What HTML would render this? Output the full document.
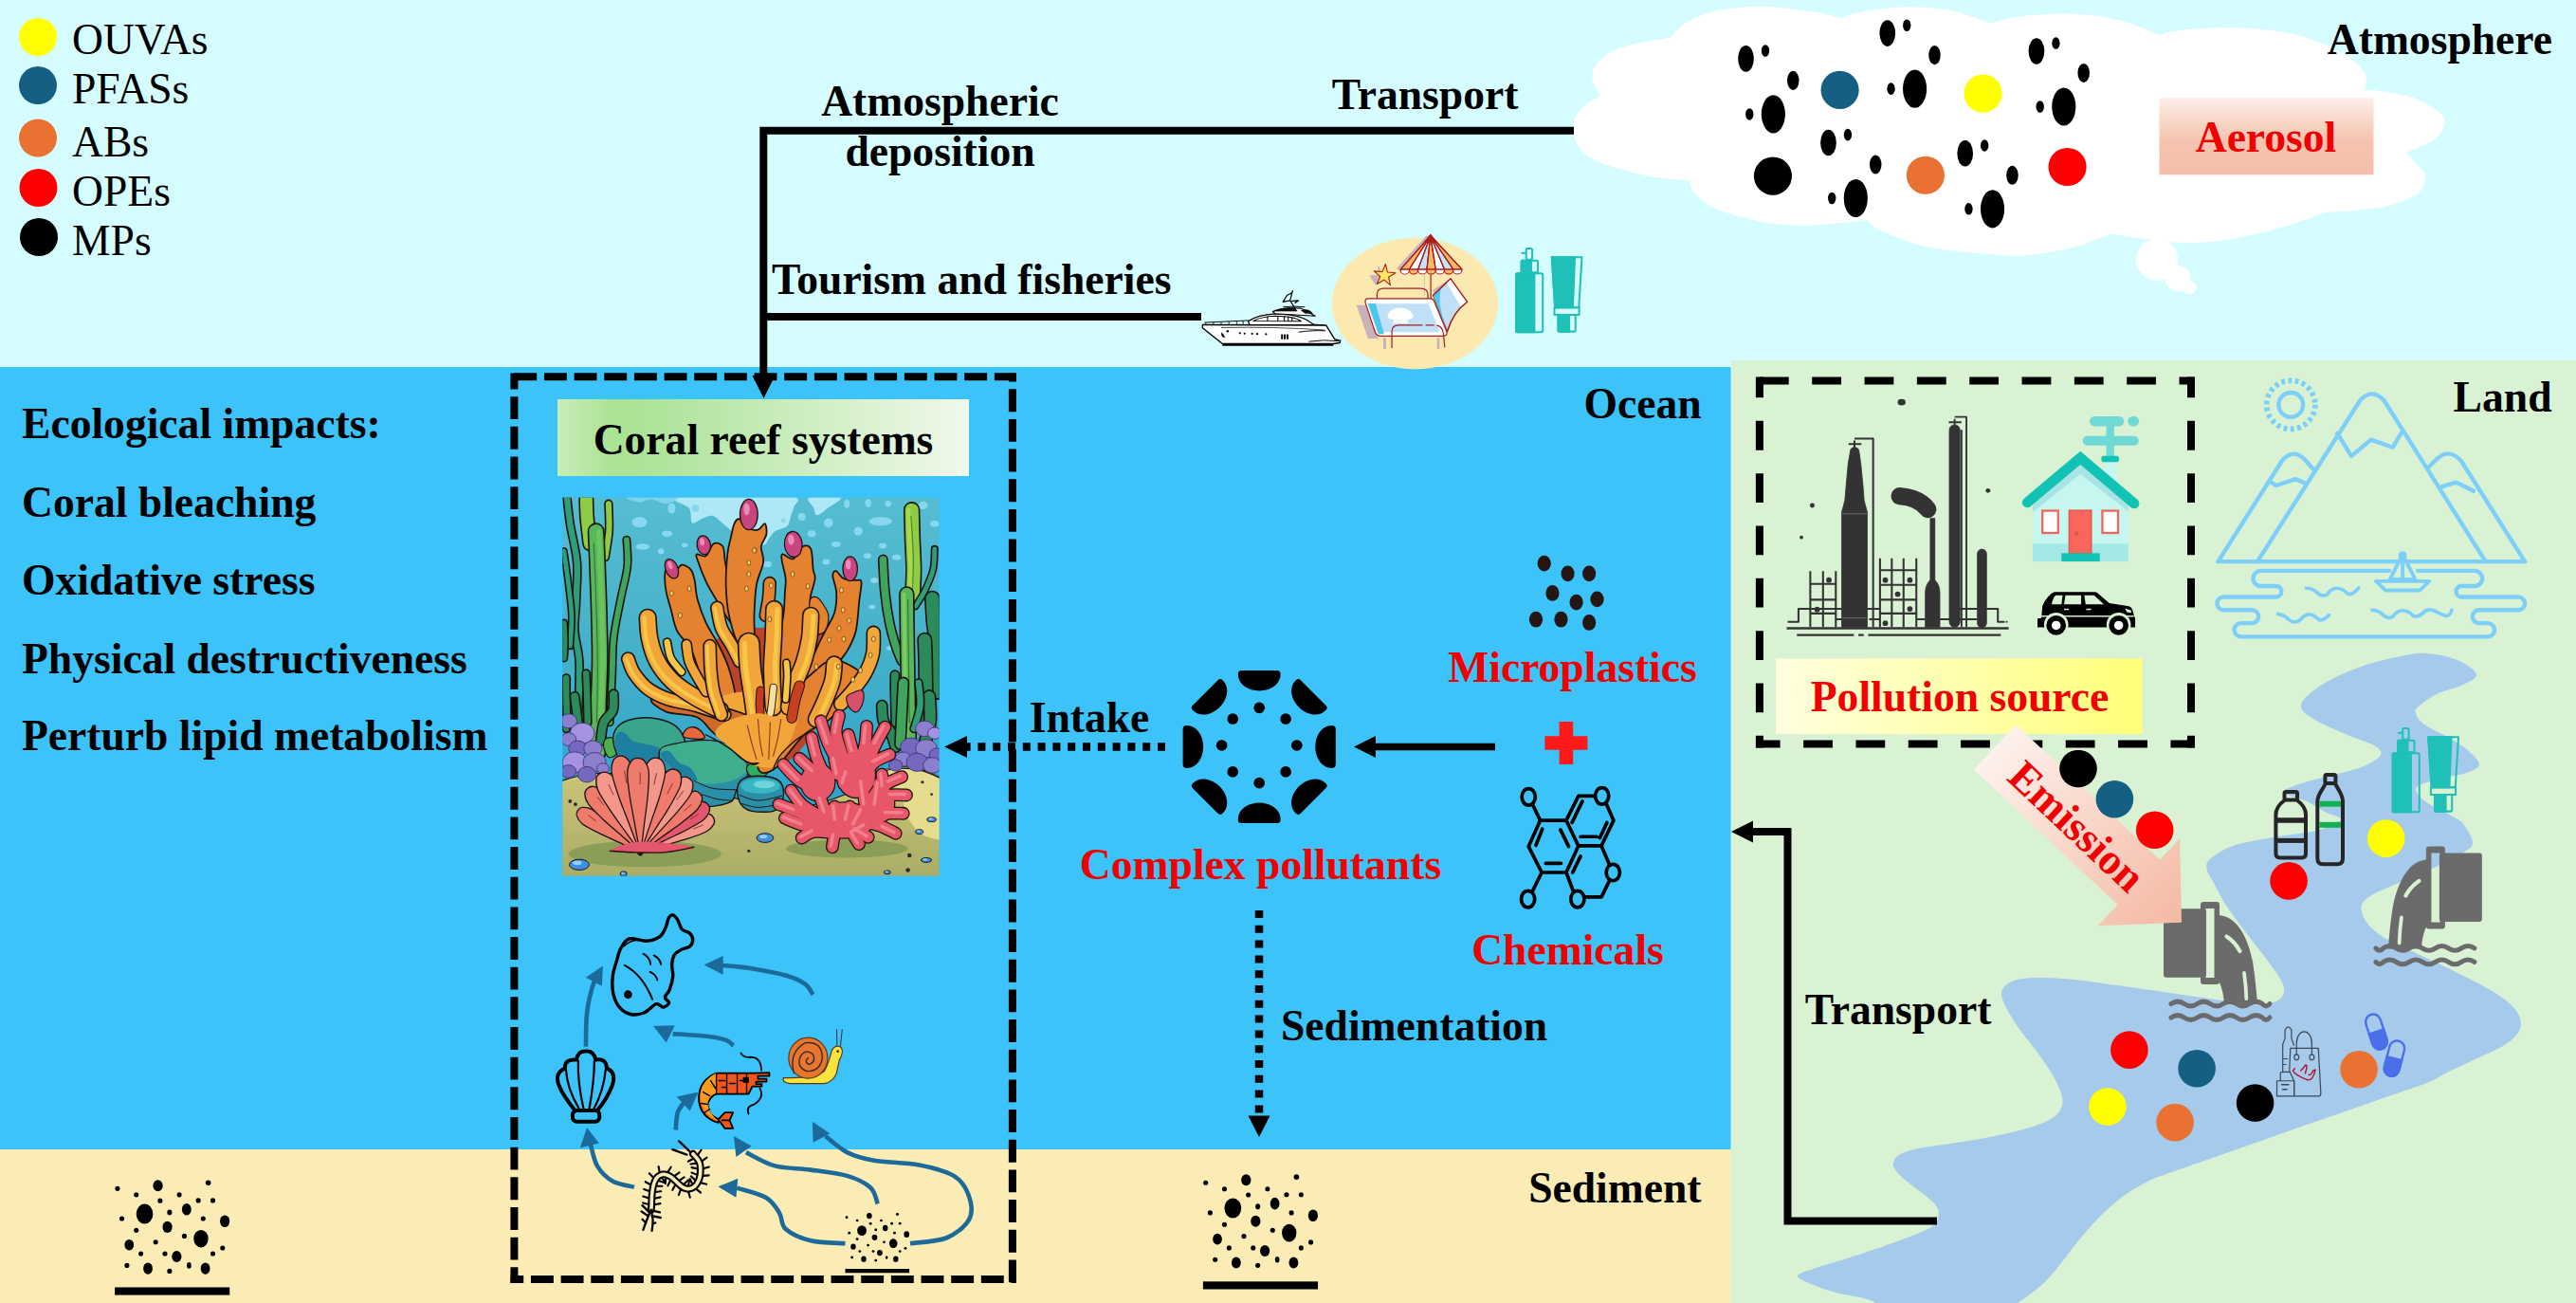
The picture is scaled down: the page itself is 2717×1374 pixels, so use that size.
<!DOCTYPE html>
<html><head><meta charset="utf-8">
<style>
html,body{margin:0;padding:0;background:#d5fdff;}
body{width:2717px;height:1374px;overflow:hidden;}
svg{display:block;}
text{font-family:"Liberation Serif",serif;font-size:45.6px;}
.b{font-weight:bold;}
.r{fill:#f00000;}
</style></head><body>
<svg width="2717" height="1374" viewBox="0 0 2717 1374">
<defs>
<linearGradient id="gCoral" x1="0" x2="1" y1="0" y2="0"><stop offset="0" stop-color="#c9ecb8"/><stop offset="0.14" stop-color="#a9e394"/><stop offset="0.3" stop-color="#b3e5a0"/><stop offset="1" stop-color="#f1f9ec"/></linearGradient>
<linearGradient id="gPoll" x1="0" x2="1" y1="0" y2="0"><stop offset="0" stop-color="#ffffde"/><stop offset="1" stop-color="#ffff78"/></linearGradient>
<linearGradient id="gAero" x1="0" x2="0" y1="0" y2="1"><stop offset="0" stop-color="#fdeee8"/><stop offset="0.55" stop-color="#f5c4b0"/><stop offset="1" stop-color="#f4bfa9"/></linearGradient>
<linearGradient id="gEmis" x1="0" x2="1" y1="0" y2="0"><stop offset="0" stop-color="#fdf1ec"/><stop offset="1" stop-color="#f4b9a3"/></linearGradient>
</defs>
<!-- BACKGROUNDS -->
<rect x="0" y="0" width="2717" height="1374" fill="#d5fdff"/>
<rect x="0" y="387" width="1826" height="825" fill="#3bc3fa"/>
<rect x="0" y="1212" width="1826" height="162" fill="#fbecb5"/>
<rect x="1825.500" y="380" width="891.500" height="994" fill="#d9f2d3"/>
<g id="cloud" fill="#fff"><path d="M1687.9 100.7C1686.5 97.6 1679.5 88.4 1679.3 82.3C1679.1 76.2 1681 69.4 1686.7 63.9C1692.4 58.4 1701 53.2 1713.7 49.1C1726.4 45 1754.6 40.9 1762.8 39.3C1765.2 36.8 1769.3 29.3 1777.5 24.6C1785.7 19.9 1798 14.1 1811.9 11.1C1825.8 8.1 1844.6 6.7 1861 6.9C1877.4 7.1 1896.4 10.2 1910.1 12.3C1923.8 14.4 1937.8 18.1 1943.3 19.2C1946 18.2 1948.4 15.5 1959.3 13.5C1970.2 11.5 1992 7.8 2008.4 7.4C2024.8 7 2042.4 8.2 2057.5 11.1C2072.6 14 2092.2 22.4 2099.2 24.6C2104.5 23.4 2116.1 18.9 2131.1 17.2C2146.1 15.5 2171.2 13.9 2189.1 14.7C2206.9 15.5 2223.5 18.4 2238.2 22.1C2252.9 25.8 2270.9 34.3 2277.5 36.8C2281.2 36 2285.7 33.1 2299.6 31.9C2313.5 30.7 2340.5 28.7 2361 29.5C2381.5 30.3 2404 32.3 2422.4 36.8C2440.8 41.3 2459.6 50 2471.5 56.5C2483.4 63 2489.7 70.4 2493.6 76.1C2497.5 81.8 2495.3 87.7 2494.9 90.9C2494.5 94.1 2491.8 94.6 2491.2 95.3C2494.1 95.4 2499.4 94.5 2508.4 95.8C2517.4 97.1 2534.6 99.4 2545.2 103.1C2555.8 106.8 2566.7 113.4 2572.2 117.9C2577.7 122.4 2579.2 125.3 2578.4 130.2C2577.6 135.1 2574.1 142.2 2567.3 147.3C2560.5 152.4 2542.7 158.6 2537.8 160.9C2539.5 162.7 2544.4 168 2547.7 171.9C2551 175.8 2556.7 179.3 2557.5 184.2C2558.3 189.1 2558.3 196.1 2552.6 201.4C2546.9 206.7 2534.6 212.6 2523.1 216.1C2511.6 219.6 2495.3 220.9 2483.8 222.2C2472.3 223.5 2462.5 222.6 2454.3 224C2446.1 225.4 2446.1 227.2 2434.7 230.8C2423.2 234.4 2402 241.7 2385.6 245.6C2369.2 249.5 2352.1 252.6 2336.5 254.2C2320.9 255.8 2310.7 256.6 2292.3 255.4C2273.9 254.2 2237.1 248.2 2226 246.8C2219.8 249.1 2203.4 256.6 2189.1 260.3C2174.8 264 2153.8 267.5 2140 268.9C2126.2 270.3 2124.4 270.3 2106.6 268.9C2088.8 267.5 2053.4 264.6 2032.9 260.3C2012.4 256 1994.4 247.8 1983.8 243.1C1973.2 238.4 1971.5 233.9 1969.1 232.1C1959.3 233 1928.1 237.3 1910.1 237.7C1892.1 238.1 1877.4 237.3 1861 234.5C1844.6 231.7 1824.2 226.1 1811.9 221C1799.6 215.9 1792.2 208.9 1787.3 203.8C1782.4 198.7 1783.2 192.6 1782.4 190.3C1775 189.5 1753.8 188.5 1738.2 185.4C1722.7 182.3 1701 176.6 1689.1 171.9C1677.2 167.2 1671.9 162.9 1667 157.2C1662.1 151.5 1660 144.1 1659.6 137.5C1659.2 130.9 1659.9 124 1664.6 117.9C1669.3 111.8 1684 103.6 1687.9 100.7Z"/><circle cx="2275.100" cy="273.800" r="22"/><circle cx="2297.200" cy="293.500" r="13.500"/><circle cx="2309.500" cy="303.300" r="7"/></g>
<!--RIVER-->
<path id="river" fill="#a6caec" d="M2427 743C2428.5 737 2438.5 728.7 2449 722C2459.5 715.3 2476.2 708 2490 703C2503.8 698 2520.5 694.3 2532 692C2543.5 689.7 2549 688.3 2559 689C2569 689.7 2583.2 692.3 2592 696C2600.8 699.7 2611 706.7 2612 711C2613 715.3 2605 718.5 2598 722C2591 725.5 2577.8 728.2 2570 732C2562.2 735.8 2554.7 741.7 2551 745C2547.3 748.3 2547 748.8 2548 752C2549 755.2 2550.5 759.3 2557 764C2563.5 768.7 2578.8 775 2587 780C2595.2 785 2601.3 789.5 2606 794C2610.7 798.5 2615.8 803.5 2615 807C2614.2 810.5 2606.2 813 2601 815C2595.8 817 2590.8 817.3 2584 819C2577.2 820.7 2566 822.8 2560 825C2554 827.2 2548.3 828.7 2548 832C2547.7 835.3 2551.5 840.2 2558 845C2564.5 849.8 2580.3 857 2587 861C2593.7 865 2594.5 864.5 2598 869C2601.5 873.5 2608 883 2608 888C2608 893 2606.2 893.8 2598 899C2589.8 904.2 2570 913.8 2559 919C2548 924.2 2541.8 925.7 2532 930C2522.2 934.3 2506.9 940.5 2500 945C2493.1 949.5 2490.9 952.1 2490.5 957C2490.1 961.9 2493.7 969.4 2497.6 974.6C2501.5 979.8 2507.6 984.3 2514 988.4C2520.4 992.5 2528.3 995.7 2536 999.4C2543.7 1003.1 2552.5 1007 2560 1010.5C2567.5 1014 2571.8 1016 2581 1020.5C2590.2 1025 2605.2 1032.2 2615 1037.5C2624.8 1042.8 2633.5 1047.8 2640 1052.5C2646.5 1057.2 2650.8 1061.5 2654 1066C2657.2 1070.5 2659 1075.2 2659 1079.5C2659 1083.8 2657.2 1087.6 2654 1091.5C2650.8 1095.4 2646.5 1099.1 2640 1103C2633.5 1106.9 2624.8 1110.3 2615 1115C2605.2 1119.7 2590.2 1126.5 2581 1131C2571.8 1135.5 2572.1 1136.9 2560 1141.7C2547.9 1146.5 2526.4 1153.5 2508.6 1159.7C2490.8 1165.9 2471.8 1172.6 2453.4 1179C2435 1185.4 2416.5 1191.8 2398.1 1198.3C2379.7 1204.8 2361.3 1211.2 2342.9 1217.7C2324.5 1224.2 2300.4 1232.4 2287.6 1237C2274.8 1241.6 2274.1 1241.4 2265.9 1245.5C2257.8 1249.6 2247.3 1255.5 2238.7 1261.8C2230.1 1268.1 2221.9 1275.9 2214.2 1283.6C2206.5 1291.3 2199.3 1299.8 2192.5 1308C2185.7 1316.2 2179.4 1325.2 2173.5 1332.5C2167.6 1339.8 2162.6 1346.1 2157.2 1351.5C2151.8 1356.9 2146.3 1361 2140.9 1365.1C2135.5 1369.2 2131.4 1371.8 2124.6 1376C2117.8 1380.2 2121.6 1387.7 2100 1390C2078.4 1392.3 2015.8 1393 1995 1390C1974.2 1387 1985.2 1376.5 1975.1 1371.9C1965 1367.3 1946.1 1365.8 1934.3 1362.4C1922.5 1359 1910.8 1354.5 1904.5 1351.5C1898.2 1348.5 1895 1347 1896.3 1344.7C1897.6 1342.4 1904 1340.8 1912.6 1337.9C1921.2 1335 1935.2 1331.2 1947.9 1327.1C1960.6 1323 1976.5 1317.8 1988.7 1313.5C2000.9 1309.2 2012.7 1304.9 2021.3 1301.3C2029.9 1297.7 2036.4 1294.9 2040.3 1291.7C2044.2 1288.5 2044 1285.4 2044.4 1282.2C2044.9 1279 2045 1276.1 2043 1272.7C2041 1269.3 2036.7 1265.7 2032.2 1261.8C2027.7 1257.9 2020.9 1253.7 2015.9 1249.6C2010.9 1245.5 2005.5 1241 2002.3 1237.4C1999.1 1233.8 1996.8 1231.1 1996.8 1227.9C1996.8 1224.7 1998.2 1221.1 2002.3 1218.4C2006.4 1215.7 2012.2 1213.6 2021.3 1211.6C2030.3 1209.5 2043.9 1208.1 2056.6 1206.1C2069.3 1204 2083.8 1202 2097.4 1199.3C2111 1196.6 2127.3 1193 2138.2 1189.8C2149.1 1186.6 2156.7 1183.7 2162.6 1180.3C2168.5 1176.9 2171.5 1173.6 2173.5 1169.5C2175.5 1165.4 2176.2 1161.8 2174.8 1155.9C2173.4 1150 2169.6 1141.8 2165.3 1134.1C2161 1126.4 2154.9 1117.8 2149 1109.7C2143.1 1101.6 2135.4 1092.9 2130 1085.2C2124.6 1077.5 2119.6 1069.8 2116.4 1063.5C2113.2 1057.2 2110.6 1051.7 2111 1047.2C2111.4 1042.7 2114.6 1038.9 2119.1 1036.3C2123.6 1033.7 2128.2 1032.1 2138.2 1031.4C2148.2 1030.7 2163.1 1030.9 2178.9 1032.2C2194.8 1033.5 2216.5 1036.7 2233.3 1039C2250.2 1041.3 2263.9 1043.5 2280 1045.8C2296.1 1048.1 2314.9 1050.8 2330 1053C2345.1 1055.2 2360.1 1058 2370.5 1058.8C2380.9 1059.6 2386.8 1058.9 2392.6 1058C2398.3 1057.1 2402.2 1055.8 2405 1053.3C2407.8 1050.8 2409.4 1047 2409.2 1043.1C2409 1039.2 2406.8 1035.2 2403.6 1029.8C2400.4 1024.4 2395.3 1017.9 2389.8 1010.5C2384.3 1003.1 2377.4 994.8 2370.5 985.6C2363.6 976.4 2354.4 964.4 2348.4 955.2C2342.4 946 2338.1 936.8 2334.6 930.4C2331.1 924 2328.3 920.7 2327.7 916.6C2327.1 912.5 2326.4 910.1 2331 906C2335.6 901.9 2344 895.8 2355 892C2366 888.2 2383.2 885.5 2397 883C2410.8 880.5 2428.8 878.7 2438 877C2447.2 875.3 2446.8 875.2 2452 873C2457.2 870.8 2469 866.8 2469 864C2469 861.2 2458 859.2 2452 856C2446 852.8 2439.7 848 2433 845C2426.3 842 2416 839.8 2412 838C2408 836.2 2407.8 835.5 2409 834C2410.2 832.5 2414.2 830.8 2419 829C2423.8 827.2 2430.2 825.2 2438 823C2445.8 820.8 2456.8 818.5 2466 816C2475.2 813.5 2485.5 811.3 2493 808C2500.5 804.7 2509.2 799.7 2511 796C2512.8 792.3 2509.8 789.5 2504 786C2498.2 782.5 2486.7 779.7 2476 775C2465.3 770.3 2448.2 763.3 2440 758C2431.8 752.7 2425.5 749 2427 743Z"/>
<!--/RIVER-->
<!-- LEGEND -->
<g id="legend">
<circle cx="40" cy="39" r="20" fill="#ffff00"/>
<circle cx="40" cy="90" r="20" fill="#156082"/>
<circle cx="40" cy="145.5" r="20" fill="#e97132"/>
<circle cx="40.500" cy="198" r="20" fill="#ff0000"/>
<circle cx="41" cy="250" r="20" fill="#000000"/>
<text x="76" y="57.3">OUVAs</text>
<text x="76" y="108.8">PFASs</text>
<text x="76" y="164.8">ABs</text>
<text x="76" y="216.8">OPEs</text>
<text x="76" y="268.8">MPs</text>
</g>
<!-- TEXT -->
<g class="b">
<text x="23" y="462">Ecological impacts:</text>
<text x="23" y="545">Coral bleaching</text>
<text x="23" y="627">Oxidative stress</text>
<text x="23" y="709.5">Physical destructiveness</text>
<text x="23" y="791">Perturb lipid metabolism</text>
<text x="991.500" y="122" text-anchor="middle">Atmospheric</text>
<text x="991.500" y="175" text-anchor="middle">deposition</text>
<text x="1503" y="115" text-anchor="middle">Transport</text>
<text x="814" y="310">Tourism and fisheries</text>
<text x="1794.700" y="441" text-anchor="end">Ocean</text>
<text x="1794.500" y="1268" text-anchor="end">Sediment</text>
<text x="1351" y="1097">Sedimentation</text>
<text x="1149" y="772" text-anchor="middle">Intake</text>
<text x="2691.500" y="434" text-anchor="end">Land</text>
<text x="2002" y="1080" text-anchor="middle">Transport</text>
<text x="2692" y="57" text-anchor="end">Atmosphere</text>
<text class="r" x="1658.500" y="719" text-anchor="middle">Microplastics</text>
<text class="r" x="1329.500" y="926.500" text-anchor="middle">Complex pollutants</text>
<text class="r" x="1653.500" y="1017" text-anchor="middle">Chemicals</text>
</g>
<!-- LINES -->
<g fill="none" stroke="#000" stroke-width="8">
<path d="M1660 137.700 H805.300 V400"/>
<path d="M805.300 334 H1267"/>
<path d="M2043 1287.500 H1885.500 V877 H1846"/>
<path d="M1577 787.500 H1448" stroke-width="7.500"/>
</g>
<path d="M793.500 396 H817.500 L805.500 420 Z" fill="#000"/>
<path d="M1826 877 L1849 865.500 V888.500 Z" fill="#000"/>
<path d="M1428 787.500 L1451 776 V799 Z" fill="#000"/>
<!-- dotted arrows -->
<path d="M1229 787.500 H1018" stroke="#000" stroke-width="8.500" stroke-dasharray="8 7.800" fill="none"/>
<path d="M996 787.500 L1020 776 V799 Z" fill="#000"/>
<path d="M1328 960 V1178" stroke="#000" stroke-width="8.500" stroke-dasharray="8 7.800" fill="none"/>
<path d="M1316.500 1176.500 H1339.500 L1328 1199 Z" fill="#000"/>
<!-- dashed boxes -->
<g fill="none" stroke="#000" stroke-width="8" stroke-dasharray="23.9 7.76">
<path d="M538.500 397.300 H1071.800" stroke-dashoffset="27.860"/>
<path d="M542.400 393.400 V1353" stroke-dashoffset="6.900"/>
<path d="M1067.900 393.400 V1353" stroke-dashoffset="14.800"/>
<path d="M538.500 1349.100 H1071.800" stroke-dashoffset="10.200"/>
</g>
<g fill="none" stroke="#000" stroke-width="8" stroke-dasharray="30.8 24.53">
<path d="M1855.900 401.500 H2314.900"/>
<path d="M1855.900 397.500 V788.600" stroke-dashoffset="9"/>
<path d="M2311 397.500 V788.600" stroke-dashoffset="9"/>
<path d="M1852 784.600 H2314.900" stroke-dashoffset="5.200"/>
</g>
<!-- label boxes -->
<rect x="588" y="421" width="434" height="81" fill="url(#gCoral)"/>
<text class="b" x="805" y="479" text-anchor="middle">Coral reef systems</text>
<rect x="1873" y="694.500" width="386.500" height="79.500" fill="url(#gPoll)"/>
<text class="b r" x="2067" y="749.500" text-anchor="middle">Pollution source</text>
<g id="aerosol" transform="translate(1640,0) scale(0.41806)">
<g id="pgrp" fill="#000"><ellipse cx="482" cy="148" rx="20" ry="33"/><ellipse cx="531" cy="128" rx="10" ry="15"/><ellipse cx="601" cy="203" rx="15" ry="24"/><ellipse cx="551" cy="288" rx="30" ry="48"/><ellipse cx="491" cy="288" rx="10" ry="15"/></g>
<use href="#pgrp" x="357" y="-64"/>
<use href="#pgrp" x="733" y="-19"/>
<use href="#pgrp" x="208" y="212"/>
<use href="#pgrp" x="553" y="239"/>
<circle cx="550" cy="444" r="48" fill="#000"/>
<circle cx="719" cy="227" r="48" fill="#156082"/>
<circle cx="1080" cy="236" r="48" fill="#ffff00"/>
<circle cx="935" cy="442" r="48" fill="#e97132"/>
<circle cx="1293" cy="421" r="48" fill="#ff0000"/>
</g>
<rect x="2277.500" y="103.300" width="226" height="81" fill="url(#gAero)"/>
<text class="b r" x="2390" y="160" text-anchor="middle">Aerosol</text>
<!--CORALIMG-->
<defs><linearGradient id="gSea" x1="0" x2="0" y1="0" y2="1"><stop offset="0" stop-color="#56bdd1"/><stop offset="0.45" stop-color="#43b0c9"/><stop offset="0.8" stop-color="#2ea3cd"/></linearGradient>
<linearGradient id="gSand" x1="0" x2="0" y1="0" y2="1"><stop offset="0" stop-color="#cdc67c"/><stop offset="0.45" stop-color="#bab76e"/><stop offset="1" stop-color="#a0a862"/></linearGradient>
<clipPath id="cpCoral"><rect x="20" y="30" width="2466" height="2473"/></clipPath></defs>
<g id="coralimg" transform="translate(590,520) scale(0.161160)" clip-path="url(#cpCoral)" stroke-linejoin="round">
<rect x="20" y="30" width="2466" height="2473" fill="url(#gSea)"/>
<path d="M760 20C685 40 832 71 850 100C868 129 855 184 870 195C885 206 917 172 940 165C963 158 983 140 1010 150C1037 160 1068 200 1100 225C1132 250 1162 281 1200 300C1238 319 1302 340 1330 340C1358 340 1357 315 1370 300C1383 285 1390 264 1410 250C1430 236 1472 232 1490 215C1508 198 1508 171 1515 150C1522 129 1530 110 1535 90C1540 70 1587 48 1548 30C1509 12 1431 -18 1300 -20C1169 -22 835 0 760 20Z" fill="#aee7f5" stroke="none" stroke-width="11" />
<path d="M1636 25C1607 38 1658 80 1666 100C1674 120 1670 146 1686 145C1702 144 1735 115 1761 95C1787 75 1862 37 1841 25C1820 13 1665 12 1636 25Z" fill="#aee7f5" stroke="none" stroke-width="11" />
<path d="M450 25C410 31 495 58 520 60C545 62 570 38 600 40C630 42 673 72 700 70C727 68 802 32 760 25C718 18 490 19 450 25Z" fill="#7fd3e8" stroke="none" stroke-width="11" />
<ellipse cx="525" cy="190" rx="50" ry="35" fill="#86d8ee" stroke="none" stroke-width="0" transform="rotate(0 525 190)"/>
<ellipse cx="705" cy="265" rx="35" ry="20" fill="#86d8ee" stroke="none" stroke-width="0" transform="rotate(0 705 265)"/>
<ellipse cx="545" cy="350" rx="45" ry="20" fill="#86d8ee" stroke="none" stroke-width="0" transform="rotate(0 545 350)"/>
<ellipse cx="665" cy="380" rx="20" ry="18" fill="#86d8ee" stroke="none" stroke-width="0" transform="rotate(0 665 380)"/>
<ellipse cx="890" cy="100" rx="25" ry="25" fill="#86d8ee" stroke="none" stroke-width="0" transform="rotate(0 890 100)"/>
<ellipse cx="820" cy="340" rx="20" ry="15" fill="#86d8ee" stroke="none" stroke-width="0" transform="rotate(0 820 340)"/>
<ellipse cx="735" cy="100" rx="25" ry="35" fill="#86d8ee" stroke="none" stroke-width="0" transform="rotate(0 735 100)"/>
<ellipse cx="1586" cy="155" rx="25" ry="25" fill="#86d8ee" stroke="none" stroke-width="0" transform="rotate(0 1586 155)"/>
<ellipse cx="1761" cy="195" rx="30" ry="30" fill="#86d8ee" stroke="none" stroke-width="0" transform="rotate(0 1761 195)"/>
<ellipse cx="1956" cy="250" rx="28" ry="28" fill="#86d8ee" stroke="none" stroke-width="0" transform="rotate(0 1956 250)"/>
<ellipse cx="2101" cy="185" rx="75" ry="28" fill="#86d8ee" stroke="none" stroke-width="0" transform="rotate(0 2101 185)"/>
<ellipse cx="1651" cy="265" rx="28" ry="22" fill="#86d8ee" stroke="none" stroke-width="0" transform="rotate(0 1651 265)"/>
<ellipse cx="1811" cy="335" rx="30" ry="18" fill="#86d8ee" stroke="none" stroke-width="0" transform="rotate(0 1811 335)"/>
<ellipse cx="2016" cy="410" rx="25" ry="18" fill="#86d8ee" stroke="none" stroke-width="0" transform="rotate(0 2016 410)"/>
<ellipse cx="1746" cy="450" rx="25" ry="18" fill="#86d8ee" stroke="none" stroke-width="0" transform="rotate(0 1746 450)"/>
<ellipse cx="2206" cy="420" rx="28" ry="18" fill="#86d8ee" stroke="none" stroke-width="0" transform="rotate(0 2206 420)"/>
<ellipse cx="2116" cy="345" rx="25" ry="18" fill="#86d8ee" stroke="none" stroke-width="0" transform="rotate(0 2116 345)"/>
<ellipse cx="2381" cy="80" rx="30" ry="25" fill="#86d8ee" stroke="none" stroke-width="0" transform="rotate(0 2381 80)"/>
<ellipse cx="2456" cy="200" rx="30" ry="20" fill="#86d8ee" stroke="none" stroke-width="0" transform="rotate(0 2456 200)"/>
<ellipse cx="2151" cy="70" rx="20" ry="20" fill="#86d8ee" stroke="none" stroke-width="0" transform="rotate(0 2151 70)"/>
<ellipse cx="2021" cy="65" rx="20" ry="28" fill="#86d8ee" stroke="none" stroke-width="0" transform="rotate(0 2021 65)"/>
<ellipse cx="1881" cy="70" rx="18" ry="28" fill="#86d8ee" stroke="none" stroke-width="0" transform="rotate(0 1881 70)"/>
<ellipse cx="2061" cy="570" rx="25" ry="18" fill="#86d8ee" stroke="none" stroke-width="0" transform="rotate(0 2061 570)"/>
<ellipse cx="2046" cy="745" rx="22" ry="14" fill="#86d8ee" stroke="none" stroke-width="0" transform="rotate(0 2046 745)"/>
<ellipse cx="2166" cy="1015" rx="25" ry="14" fill="#86d8ee" stroke="none" stroke-width="0" transform="rotate(0 2166 1015)"/>
<ellipse cx="1361" cy="465" rx="28" ry="20" fill="#86d8ee" stroke="none" stroke-width="0" transform="rotate(0 1361 465)"/>
<ellipse cx="1466" cy="180" rx="14" ry="14" fill="#86d8ee" stroke="none" stroke-width="0" transform="rotate(0 1466 180)"/>
<path d="M20 1881C75 1862 150 1840 230 1835C310 1830 372 1829 500 1850C628 1871 833 1925 1000 1960C1167 1995 1350 2060 1500 2060C1650 2060 1797 2001 1900 1960C2003 1919 2053 1842 2120 1815C2187 1788 2239 1788 2300 1795C2361 1802 2436 1826 2486 1860C2536 1894 2581 1877 2600 2000C2619 2123 3050 2500 2600 2600C2150 2700 350 2708 -100 2600C-550 2492 -120 2070 -100 1950C-80 1830 -35 1900 20 1881Z" fill="url(#gSand)" stroke="#1c1410" stroke-width="7" />
<path d="M2121 1816C2133 1801 2199 1801 2241 1801C2283 1801 2330 1806 2371 1816C2412 1826 2458 1840 2486 1861C2514 1882 2532 1878 2541 1941C2550 2004 2566 2191 2541 2241C2516 2291 2433 2258 2391 2241C2349 2224 2316 2181 2291 2141C2266 2101 2261 2043 2241 2001C2221 1959 2191 1922 2171 1891C2151 1860 2109 1831 2121 1816Z" fill="#e6dc8e" stroke="none" stroke-width="11" />
<path d="M2121 1816C2141 1814 2199 1801 2241 1801C2283 1801 2330 1806 2371 1816C2412 1826 2467 1854 2486 1861" fill="none" stroke="#1c1410" stroke-width="7" stroke-linecap="round"/>
<path d="M45 -20C49 17 58 122 70 200C82 278 108 367 115 450C122 533 112 625 110 700C108 775 97 833 100 900C103 967 126 1017 130 1100C134 1183 128 1317 125 1400C122 1483 112 1567 110 1600" fill="none" stroke="#1c1410" stroke-width="60" stroke-linecap="round"/>
<path d="M45 -20C49 17 58 122 70 200C82 278 108 367 115 450C122 533 112 625 110 700C108 775 97 833 100 900C103 967 126 1017 130 1100C134 1183 128 1317 125 1400C122 1483 112 1567 110 1600" fill="none" stroke="#2f9c7a" stroke-width="40" stroke-linecap="round"/>
<path d="M30 380C35 417 52 530 60 600C68 670 78 733 80 800C82 867 72 967 70 1000" fill="none" stroke="#1c1410" stroke-width="50" stroke-linecap="round"/>
<path d="M30 380C35 417 52 530 60 600C68 670 78 733 80 800C82 867 72 967 70 1000" fill="none" stroke="#2f9c7a" stroke-width="30" stroke-linecap="round"/>
<path d="M175 -20C176 8 176 92 180 150C184 208 197 300 200 330" fill="none" stroke="#1c1410" stroke-width="100" stroke-linecap="round"/>
<path d="M175 -20C176 8 176 92 180 150C184 208 197 300 200 330" fill="none" stroke="#8fcc45" stroke-width="80" stroke-linecap="round"/>
<path d="M322 70C322 100 329 192 325 250C321 308 304 392 300 420" fill="none" stroke="#1c1410" stroke-width="58" stroke-linecap="round"/>
<path d="M322 70C322 100 329 192 325 250C321 308 304 392 300 420" fill="none" stroke="#8fcc45" stroke-width="38" stroke-linecap="round"/>
<path d="M440 305C441 334 452 414 445 480C438 546 415 622 400 700C385 778 364 867 355 950C346 1033 349 1108 345 1200C341 1292 332 1450 330 1500" fill="none" stroke="#1c1410" stroke-width="56" stroke-linecap="round"/>
<path d="M440 305C441 334 452 414 445 480C438 546 415 622 400 700C385 778 364 867 355 950C346 1033 349 1108 345 1200C341 1292 332 1450 330 1500" fill="none" stroke="#3fa55c" stroke-width="36" stroke-linecap="round"/>
<path d="M240 250C242 292 247 408 250 500C253 592 258 700 260 800C262 900 266 1000 265 1100C264 1200 258 1300 255 1400C252 1500 251 1650 250 1700" fill="none" stroke="#1c1410" stroke-width="112" stroke-linecap="round"/>
<path d="M240 250C242 292 247 408 250 500C253 592 258 700 260 800C262 900 266 1000 265 1100C264 1200 258 1300 255 1400C252 1500 251 1650 250 1700" fill="none" stroke="#59b659" stroke-width="92" stroke-linecap="round"/>
<path d="M240 250C242 292 247 408 250 500C253 592 258 700 260 800C262 900 266 1000 265 1100C264 1200 258 1300 255 1400C252 1500 251 1650 250 1700" fill="none" stroke="#6cc45e" stroke-width="32.2" stroke-linecap="round" transform="translate(18,0)"/>
<path d="M225 330C228 392 236 572 240 700C244 828 249 967 250 1100C251 1233 246 1433 245 1500" fill="none" stroke="#2a6a3a" stroke-width="6" stroke-linecap="round"/>
<path d="M355 1316C354 1334 361 1390 350 1421C339 1452 303 1468 290 1501C277 1534 273 1601 270 1621" fill="none" stroke="#1c1410" stroke-width="72" stroke-linecap="round"/>
<path d="M355 1316C354 1334 361 1390 350 1421C339 1452 303 1468 290 1501C277 1534 273 1601 270 1621" fill="none" stroke="#2d8a5a" stroke-width="52" stroke-linecap="round"/>
<path d="M100 1331C103 1358 115 1439 120 1491C125 1543 128 1616 130 1641" fill="none" stroke="#1c1410" stroke-width="70" stroke-linecap="round"/>
<path d="M100 1331C103 1358 115 1439 120 1491C125 1543 128 1616 130 1641" fill="none" stroke="#2d8a5a" stroke-width="50" stroke-linecap="round"/>
<path d="M30 1261C31 1283 32 1344 35 1391C38 1438 43 1516 45 1541" fill="none" stroke="#1c1410" stroke-width="60" stroke-linecap="round"/>
<path d="M30 1261C31 1283 32 1344 35 1391C38 1438 43 1516 45 1541" fill="none" stroke="#2d8a5a" stroke-width="40" stroke-linecap="round"/>
<path d="M30 850C31 872 35 942 35 980C35 1018 31 1063 30 1080" fill="none" stroke="#1c1410" stroke-width="55" stroke-linecap="round"/>
<path d="M30 850C31 872 35 942 35 980C35 1018 31 1063 30 1080" fill="none" stroke="#2d8a5a" stroke-width="35" stroke-linecap="round"/>
<path d="M175 1180C176 1200 178 1247 180 1300C182 1353 184 1467 185 1500" fill="none" stroke="#1c1410" stroke-width="60" stroke-linecap="round"/>
<path d="M175 1180C176 1200 178 1247 180 1300C182 1353 184 1467 185 1500" fill="none" stroke="#2d8a5a" stroke-width="40" stroke-linecap="round"/>
<path d="M45 1210C45 1228 44 1272 45 1320C46 1368 49 1470 50 1500" fill="none" stroke="#1c1410" stroke-width="60" stroke-linecap="round"/>
<path d="M45 1210C45 1228 44 1272 45 1320C46 1368 49 1470 50 1500" fill="none" stroke="#2d8a5a" stroke-width="40" stroke-linecap="round"/>
<path d="M290 1661C287 1642 291 1621 300 1611C309 1601 332 1596 345 1601C358 1606 371 1623 375 1641C379 1659 379 1697 370 1711C361 1725 333 1734 320 1726C307 1718 293 1680 290 1661Z" fill="#4caf50" stroke="#1c1410" stroke-width="7" />
<path d="M2306 110C2307 142 2309 235 2311 300C2313 365 2319 433 2319 500C2319 567 2312 667 2311 700" fill="none" stroke="#1c1410" stroke-width="108" stroke-linecap="round"/>
<path d="M2306 110C2307 142 2309 235 2311 300C2313 365 2319 433 2319 500C2319 567 2312 667 2311 700" fill="none" stroke="#8fcc45" stroke-width="88" stroke-linecap="round"/>
<path d="M2306 110C2307 142 2309 235 2311 300C2313 365 2319 433 2319 500C2319 567 2312 667 2311 700" fill="none" stroke="#a5d84f" stroke-width="26.4" stroke-linecap="round" transform="translate(-20,0)"/>
<path d="M2301 150C2304 192 2314 318 2316 400C2318 482 2312 600 2311 640" fill="none" stroke="#3a7a2a" stroke-width="6" stroke-linecap="round"/>
<path d="M2456 365C2454 388 2457 454 2446 500C2435 546 2410 600 2391 640C2372 680 2341 723 2331 740" fill="none" stroke="#1c1410" stroke-width="50" stroke-linecap="round"/>
<path d="M2456 365C2454 388 2457 454 2446 500C2435 546 2410 600 2391 640C2372 680 2341 723 2331 740" fill="none" stroke="#2f9c7a" stroke-width="30" stroke-linecap="round"/>
<path d="M2118 435C2120 471 2124 581 2131 650C2138 719 2149 792 2161 850C2173 908 2188 958 2201 1000C2214 1042 2234 1083 2241 1100" fill="none" stroke="#1c1410" stroke-width="68" stroke-linecap="round"/>
<path d="M2118 435C2120 471 2124 581 2131 650C2138 719 2149 792 2161 850C2173 908 2188 958 2201 1000C2214 1042 2234 1083 2241 1100" fill="none" stroke="#3fa55c" stroke-width="48" stroke-linecap="round"/>
<path d="M2441 690C2443 717 2446 798 2451 850C2456 902 2466 925 2471 1000C2476 1075 2479 1250 2481 1300" fill="none" stroke="#1c1410" stroke-width="105" stroke-linecap="round"/>
<path d="M2441 690C2443 717 2446 798 2451 850C2456 902 2466 925 2471 1000C2476 1075 2479 1250 2481 1300" fill="none" stroke="#2d8a5a" stroke-width="85" stroke-linecap="round"/>
<path d="M2391 960C2392 983 2394 1010 2396 1100C2398 1190 2400 1433 2401 1500" fill="none" stroke="#1c1410" stroke-width="100" stroke-linecap="round"/>
<path d="M2391 960C2392 983 2394 1010 2396 1100C2398 1190 2400 1433 2401 1500" fill="none" stroke="#2d8a5a" stroke-width="80" stroke-linecap="round"/>
<path d="M2273 660C2274 700 2275 810 2276 900C2277 990 2279 1100 2281 1200C2283 1300 2284 1417 2286 1500C2288 1583 2290 1667 2291 1700" fill="none" stroke="#1c1410" stroke-width="102" stroke-linecap="round"/>
<path d="M2273 660C2274 700 2275 810 2276 900C2277 990 2279 1100 2281 1200C2283 1300 2284 1417 2286 1500C2288 1583 2290 1667 2291 1700" fill="none" stroke="#59b659" stroke-width="82" stroke-linecap="round"/>
<path d="M2273 660C2274 700 2275 810 2276 900C2277 990 2279 1100 2281 1200C2283 1300 2284 1417 2286 1500C2288 1583 2290 1667 2291 1700" fill="none" stroke="#7acc5e" stroke-width="24.6" stroke-linecap="round" transform="translate(-18,0)"/>
<path d="M2281 700C2282 767 2284 967 2286 1100C2288 1233 2290 1433 2291 1500" fill="none" stroke="#2a6a3a" stroke-width="6" stroke-linecap="round"/>
<path d="M2196 1190C2196 1208 2195 1248 2196 1300C2197 1352 2200 1467 2201 1500" fill="none" stroke="#1c1410" stroke-width="68" stroke-linecap="round"/>
<path d="M2196 1190C2196 1208 2195 1248 2196 1300C2197 1352 2200 1467 2201 1500" fill="none" stroke="#2d8a5a" stroke-width="48" stroke-linecap="round"/>
<path d="M2111 1391C2113 1408 2111 1461 2121 1491C2131 1521 2158 1543 2171 1571C2184 1599 2196 1646 2201 1661" fill="none" stroke="#1c1410" stroke-width="80" stroke-linecap="round"/>
<path d="M2111 1391C2113 1408 2111 1461 2121 1491C2131 1521 2158 1543 2171 1571C2184 1599 2196 1646 2201 1661" fill="none" stroke="#2d8a5a" stroke-width="60" stroke-linecap="round"/>
<path d="M2421 1330C2422 1357 2431 1439 2426 1491C2421 1543 2397 1616 2391 1641" fill="none" stroke="#1c1410" stroke-width="90" stroke-linecap="round"/>
<path d="M2421 1330C2422 1357 2431 1439 2426 1491C2421 1543 2397 1616 2391 1641" fill="none" stroke="#2d8a5a" stroke-width="70" stroke-linecap="round"/>
<path d="M2251 1241C2249 1274 2244 1374 2241 1441C2238 1508 2233 1608 2231 1641" fill="none" stroke="#1c1410" stroke-width="80" stroke-linecap="round"/>
<path d="M2251 1241C2249 1274 2244 1374 2241 1441C2238 1508 2233 1608 2231 1641" fill="none" stroke="#3fa55c" stroke-width="60" stroke-linecap="round"/>
<path d="M2351 1241C2353 1266 2366 1341 2361 1391C2356 1441 2328 1516 2321 1541" fill="none" stroke="#1c1410" stroke-width="60" stroke-linecap="round"/>
<path d="M2351 1241C2353 1266 2366 1341 2361 1391C2356 1441 2328 1516 2321 1541" fill="none" stroke="#2f9c7a" stroke-width="40" stroke-linecap="round"/>
<ellipse cx="60" cy="1491" rx="55" ry="46.75" fill="#8d7fd0" stroke="#3a2f6a" stroke-width="5" transform="rotate(0 60 1491)"/>
<ellipse cx="150" cy="1571" rx="80" ry="68" fill="#a692e2" stroke="#3a2f6a" stroke-width="5" transform="rotate(0 150 1571)"/>
<ellipse cx="60" cy="1611" rx="50" ry="42.5" fill="#8d7fd0" stroke="#3a2f6a" stroke-width="5" transform="rotate(0 60 1611)"/>
<ellipse cx="120" cy="1671" rx="60" ry="51" fill="#7468c0" stroke="#3a2f6a" stroke-width="5" transform="rotate(0 120 1671)"/>
<ellipse cx="220" cy="1671" rx="60" ry="51" fill="#8d7fd0" stroke="#3a2f6a" stroke-width="5" transform="rotate(0 220 1671)"/>
<ellipse cx="100" cy="1761" rx="80" ry="68" fill="#a692e2" stroke="#3a2f6a" stroke-width="5" transform="rotate(0 100 1761)"/>
<ellipse cx="230" cy="1761" rx="75" ry="63.75" fill="#8d7fd0" stroke="#3a2f6a" stroke-width="5" transform="rotate(0 230 1761)"/>
<ellipse cx="60" cy="1821" rx="50" ry="42.5" fill="#7468c0" stroke="#3a2f6a" stroke-width="5" transform="rotate(0 60 1821)"/>
<ellipse cx="180" cy="1841" rx="60" ry="51" fill="#7468c0" stroke="#3a2f6a" stroke-width="5" transform="rotate(0 180 1841)"/>
<ellipse cx="285" cy="1801" rx="40" ry="34" fill="#8d7fd0" stroke="#3a2f6a" stroke-width="5" transform="rotate(0 285 1801)"/>
<ellipse cx="2391" cy="1541" rx="60" ry="51" fill="#8d7fd0" stroke="#3a2f6a" stroke-width="5" transform="rotate(0 2391 1541)"/>
<ellipse cx="2456" cy="1571" rx="45" ry="38.25" fill="#a692e2" stroke="#3a2f6a" stroke-width="5" transform="rotate(0 2456 1571)"/>
<ellipse cx="2301" cy="1661" rx="70" ry="59.5" fill="#7468c0" stroke="#3a2f6a" stroke-width="5" transform="rotate(0 2301 1661)"/>
<ellipse cx="2401" cy="1671" rx="70" ry="59.5" fill="#8d7fd0" stroke="#3a2f6a" stroke-width="5" transform="rotate(0 2401 1671)"/>
<ellipse cx="2471" cy="1711" rx="50" ry="42.5" fill="#7468c0" stroke="#3a2f6a" stroke-width="5" transform="rotate(0 2471 1711)"/>
<ellipse cx="2251" cy="1741" rx="55" ry="46.75" fill="#8d7fd0" stroke="#3a2f6a" stroke-width="5" transform="rotate(0 2251 1741)"/>
<ellipse cx="2341" cy="1761" rx="70" ry="59.5" fill="#7468c0" stroke="#3a2f6a" stroke-width="5" transform="rotate(0 2341 1761)"/>
<ellipse cx="2441" cy="1781" rx="60" ry="51" fill="#8d7fd0" stroke="#3a2f6a" stroke-width="5" transform="rotate(0 2441 1781)"/>
<ellipse cx="2201" cy="1781" rx="45" ry="38.25" fill="#7468c0" stroke="#3a2f6a" stroke-width="5" transform="rotate(0 2201 1781)"/>
<path d="M360 1661C346 1619 350 1580 365 1551C380 1522 411 1499 450 1486C489 1473 550 1466 600 1471C650 1476 714 1494 750 1516C786 1538 802 1567 815 1601C828 1635 849 1688 830 1721C811 1754 763 1788 700 1801C637 1814 507 1824 450 1801C393 1778 374 1703 360 1661Z" fill="#38a58c" stroke="#1c1410" stroke-width="9" />
<path d="M365 1661C353 1623 369 1586 380 1571C391 1556 413 1563 430 1571C447 1579 458 1609 480 1621C502 1633 533 1634 560 1641C587 1648 617 1649 640 1661C663 1673 692 1688 700 1711C708 1734 732 1786 690 1801C648 1816 504 1824 450 1801C396 1778 377 1699 365 1661Z" fill="#1f7fa0" stroke="none" stroke-width="11" />
<path d="M815 1596C796 1586 819 1557 830 1546C841 1535 864 1529 880 1531C896 1533 914 1544 925 1556C936 1568 963 1599 945 1606C927 1613 834 1606 815 1596Z" fill="#e8663a" stroke="#1c1410" stroke-width="8" />
<path d="M655 1691C668 1654 722 1648 780 1636C838 1624 938 1613 1000 1619C1062 1625 1111 1641 1150 1671C1189 1701 1224 1766 1235 1801C1246 1836 1228 1858 1215 1881C1202 1904 1176 1918 1160 1941C1144 1964 1155 2003 1120 2021C1085 2039 1000 2054 950 2051C900 2048 862 2033 820 2001C778 1969 728 1913 700 1861C672 1809 642 1728 655 1691Z" fill="#2b8fa8" stroke="#1c1410" stroke-width="9" />
<path d="M660 1691C657 1657 723 1650 780 1639C837 1628 938 1617 1000 1623C1062 1629 1112 1643 1150 1673C1188 1703 1233 1766 1230 1801C1227 1836 1177 1864 1130 1881C1083 1898 1005 1908 950 1901C895 1894 848 1876 800 1841C752 1806 663 1725 660 1691Z" fill="#3fae8f" stroke="none" stroke-width="11" />
<path d="M665 1701C668 1689 701 1681 720 1691C739 1701 757 1743 780 1761C803 1779 840 1781 860 1801C880 1821 910 1874 900 1881C890 1888 833 1861 800 1841C767 1821 722 1784 700 1761C678 1738 662 1713 665 1701Z" fill="#1f7fa0" stroke="none" stroke-width="11" />
<path d="M880 1881C900 1889 953 1921 1000 1931C1047 1941 1133 1939 1160 1941" fill="none" stroke="#1c1410" stroke-width="6" stroke-linecap="round"/>
<path d="M930 1971C947 1976 998 1994 1030 2001C1062 2008 1105 2009 1120 2011" fill="none" stroke="#1c1410" stroke-width="6" stroke-linecap="round"/>
<path d="M1225 1801C1225 1788 1231 1778 1250 1771C1269 1764 1320 1756 1340 1761C1360 1766 1370 1786 1370 1801C1370 1816 1360 1843 1340 1851C1320 1859 1269 1859 1250 1851C1231 1843 1225 1814 1225 1801Z" fill="#2fae5f" stroke="#1c1410" stroke-width="8" />
<path d="M1165 1931C1168 1904 1178 1884 1200 1871C1222 1858 1263 1851 1300 1851C1337 1851 1392 1858 1420 1871C1448 1884 1459 1904 1465 1931C1471 1958 1466 2006 1455 2031C1444 2056 1432 2073 1400 2081C1368 2089 1296 2089 1260 2081C1224 2073 1201 2056 1185 2031C1169 2006 1162 1958 1165 1931Z" fill="#2b8fa8" stroke="#1c1410" stroke-width="9" />
<ellipse cx="1315" cy="1916" rx="130" ry="50" fill="#3ab5c4" stroke="none" stroke-width="0" transform="rotate(0 1315 1916)"/>
<ellipse cx="1340" cy="1906" rx="70" ry="25" fill="#6fd5dc" stroke="none" stroke-width="0" transform="rotate(0 1340 1906)"/>
<path d="M1180 1976C1200 1982 1254 2010 1300 2011C1346 2012 1429 1986 1455 1981" fill="none" stroke="#1c1410" stroke-width="6" stroke-linecap="round"/>
<path d="M1190 2031C1208 2035 1258 2055 1300 2056C1342 2057 1417 2039 1440 2036" fill="none" stroke="#1c1410" stroke-width="6" stroke-linecap="round"/>
<path d="M1000 1000C1017 950 1083 920 1150 900C1217 880 1308 880 1400 880C1492 880 1633 880 1700 900C1767 920 1787 933 1800 1000C1813 1067 1797 1217 1780 1300C1763 1383 1737 1433 1700 1500C1663 1567 1607 1652 1560 1700C1513 1748 1470 1778 1420 1790C1370 1802 1292 1802 1260 1770C1228 1738 1248 1662 1230 1600C1212 1538 1180 1467 1150 1400C1120 1333 1075 1267 1050 1200C1025 1133 983 1050 1000 1000Z" fill="#b8452a" stroke="none" stroke-width="0" />
<path d="M690 560C690 535 688 508 700 500C712 492 743 515 760 510C777 505 783 472 800 470C817 468 846 483 860 500C874 517 878 537 885 570C892 603 892 653 905 700C918 747 938 802 960 850C982 898 1015 940 1040 990C1065 1040 1092 1090 1110 1150C1128 1210 1160 1308 1150 1350C1140 1392 1087 1425 1050 1400C1013 1375 962 1263 930 1200C898 1137 887 1070 860 1020C833 970 792 943 770 900C748 857 742 802 730 760C718 718 707 683 700 650C693 617 690 585 690 560Z" fill="#e58230" stroke="#1c1410" stroke-width="11" />
<path d="M905 440C895 410 891 405 900 400C909 395 942 422 960 410C978 398 992 340 1010 330C1028 320 1058 330 1070 350C1082 370 1078 415 1085 450C1092 485 1094 518 1110 560C1126 602 1157 652 1180 700C1203 748 1243 808 1250 850C1257 892 1240 948 1220 950C1200 952 1160 898 1130 860C1100 822 1068 767 1040 720C1012 673 982 627 960 580C938 533 915 470 905 440Z" fill="#e58230" stroke="#1c1410" stroke-width="11" />
<path d="M1145 200C1155 178 1164 165 1180 170C1196 175 1220 218 1240 230C1260 242 1282 245 1300 240C1318 235 1336 195 1345 200C1354 205 1359 245 1355 270C1351 295 1323 320 1320 350C1317 380 1340 408 1335 450C1330 492 1300 542 1290 600C1280 658 1278 733 1275 800C1272 867 1286 967 1270 1000C1254 1033 1207 1033 1180 1000C1153 967 1125 867 1110 800C1095 733 1092 667 1090 600C1088 533 1095 450 1100 400C1105 350 1112 333 1120 300C1128 267 1135 222 1145 200Z" fill="#e58230" stroke="#1c1410" stroke-width="11" />
<path d="M1456 440C1453 413 1448 402 1461 400C1474 398 1509 438 1531 430C1553 422 1572 361 1591 350C1610 339 1634 340 1646 365C1658 390 1656 468 1661 500C1666 532 1676 530 1673 560C1670 590 1650 640 1643 680C1636 720 1642 747 1633 800C1624 853 1613 917 1591 1000C1569 1083 1538 1250 1501 1300C1464 1350 1383 1350 1371 1300C1359 1250 1415 1083 1431 1000C1447 917 1458 858 1466 800C1474 742 1474 690 1476 650C1478 610 1484 595 1481 560C1478 525 1459 467 1456 440Z" fill="#e58230" stroke="#1c1410" stroke-width="11" />
<path d="M1376 590C1375 605 1375 645 1371 680C1367 715 1354 780 1351 800" fill="none" stroke="#1c1410" stroke-width="90" stroke-linecap="round"/>
<path d="M1376 590C1375 605 1375 645 1371 680C1367 715 1354 780 1351 800" fill="none" stroke="#e58230" stroke-width="70" stroke-linecap="round"/>
<path d="M1641 700C1648 677 1668 677 1681 680C1694 683 1708 700 1721 720C1734 740 1758 770 1761 800C1764 830 1756 880 1741 900C1726 920 1688 933 1671 920C1654 907 1646 857 1641 820C1636 783 1634 723 1641 700Z" fill="#e58230" stroke="#1c1410" stroke-width="7" />
<path d="M1789 540C1789 517 1799 507 1811 510C1823 513 1839 550 1861 560C1883 570 1922 567 1941 570C1960 573 1972 558 1976 580C1980 602 1969 647 1963 700C1957 753 1953 847 1941 900C1929 953 1909 985 1891 1020C1873 1055 1849 1072 1831 1110C1813 1148 1796 1202 1781 1250C1766 1298 1776 1375 1741 1400C1706 1425 1589 1442 1571 1400C1553 1358 1611 1217 1631 1150C1651 1083 1673 1042 1691 1000C1709 958 1723 937 1741 900C1759 863 1789 822 1801 780C1813 738 1815 690 1813 650C1811 610 1789 563 1789 540Z" fill="#e58230" stroke="#1c1410" stroke-width="11" />
<path d="M2001 1201C2024 1236 1968 1266 1941 1301C1914 1336 1874 1378 1841 1411C1808 1444 1781 1473 1741 1501C1701 1529 1656 1531 1601 1581C1546 1631 1461 1764 1411 1801C1361 1838 1313 1844 1301 1801C1289 1758 1309 1618 1341 1541C1373 1464 1441 1399 1491 1341C1541 1283 1589 1233 1641 1191C1693 1149 1741 1089 1801 1091C1861 1093 1978 1166 2001 1201Z" fill="#e58230" stroke="#1c1410" stroke-width="11" />
<path d="M2056 915C2055 938 2060 1006 2051 1050C2042 1094 2023 1140 2001 1180C1979 1220 1948 1257 1921 1290C1894 1323 1854 1365 1841 1380" fill="none" stroke="#1c1410" stroke-width="98" stroke-linecap="round"/>
<path d="M2056 915C2055 938 2060 1006 2051 1050C2042 1094 2023 1140 2001 1180C1979 1220 1948 1257 1921 1290C1894 1323 1854 1365 1841 1380" fill="none" stroke="#f2a63a" stroke-width="78" stroke-linecap="round"/>
<path d="M1050 1350C1058 1317 1142 1305 1200 1300C1258 1295 1340 1303 1400 1320C1460 1337 1540 1353 1560 1400C1580 1447 1540 1543 1520 1600C1500 1657 1460 1708 1440 1740C1420 1772 1433 1790 1400 1795C1367 1800 1282 1794 1240 1770C1198 1746 1165 1695 1150 1650C1135 1605 1167 1550 1150 1500C1133 1450 1042 1383 1050 1350Z" fill="#f2a63a" stroke="none" stroke-width="0" />
<path d="M600 1351C592 1366 650 1412 700 1431C750 1450 850 1444 900 1466C950 1488 967 1532 1000 1561C1033 1590 1067 1611 1100 1641C1133 1671 1166 1721 1200 1741C1234 1761 1273 1794 1303 1761C1333 1728 1397 1594 1380 1541C1363 1488 1272 1469 1200 1441C1128 1413 1025 1388 950 1371C875 1354 808 1344 750 1341C692 1338 608 1336 600 1351Z" fill="#cf6a2c" stroke="#1c1410" stroke-width="11" />
<path d="M450 1085C457 1101 468 1148 490 1180C512 1212 542 1252 580 1280C618 1308 667 1332 720 1350C773 1368 840 1373 900 1390C960 1407 1050 1440 1080 1450" fill="none" stroke="#1c1410" stroke-width="95" stroke-linecap="round"/>
<path d="M450 1085C457 1101 468 1148 490 1180C512 1212 542 1252 580 1280C618 1308 667 1332 720 1350C773 1368 840 1373 900 1390C960 1407 1050 1440 1080 1450" fill="none" stroke="#f2a63a" stroke-width="75" stroke-linecap="round"/>
<path d="M450 1085C457 1101 468 1148 490 1180C512 1212 542 1252 580 1280C618 1308 667 1332 720 1350C773 1368 840 1373 900 1390C960 1407 1050 1440 1080 1450" fill="none" stroke="#f7c748" stroke-width="22.5" stroke-linecap="round" transform="translate(-10,0)"/>
<path d="M578 815C580 838 580 902 590 950C600 998 615 1053 640 1100C665 1147 700 1192 740 1230C780 1268 828 1298 880 1330C932 1362 1022 1405 1050 1420" fill="none" stroke="#1c1410" stroke-width="120" stroke-linecap="round"/>
<path d="M578 815C580 838 580 902 590 950C600 998 615 1053 640 1100C665 1147 700 1192 740 1230C780 1268 828 1298 880 1330C932 1362 1022 1405 1050 1420" fill="none" stroke="#f2a63a" stroke-width="100" stroke-linecap="round"/>
<path d="M578 815C580 838 580 902 590 950C600 998 615 1053 640 1100C665 1147 700 1192 740 1230C780 1268 828 1298 880 1330C932 1362 1022 1405 1050 1420" fill="none" stroke="#f7c748" stroke-width="25" stroke-linecap="round" transform="translate(-22,0)"/>
<path d="M705 975C709 992 714 1048 730 1080C746 1112 788 1155 800 1170" fill="none" stroke="#1c1410" stroke-width="60" stroke-linecap="round"/>
<path d="M705 975C709 992 714 1048 730 1080C746 1112 788 1155 800 1170" fill="none" stroke="#f7c748" stroke-width="40" stroke-linecap="round"/>
<path d="M832 990C835 1008 839 1065 850 1100C861 1135 882 1167 900 1200C918 1233 950 1283 960 1300" fill="none" stroke="#1c1410" stroke-width="75" stroke-linecap="round"/>
<path d="M832 990C835 1008 839 1065 850 1100C861 1135 882 1167 900 1200C918 1233 950 1283 960 1300" fill="none" stroke="#f2a63a" stroke-width="55" stroke-linecap="round"/>
<path d="M985 1000C986 1025 986 1100 990 1150C994 1200 998 1250 1010 1300C1022 1350 1052 1425 1060 1450" fill="none" stroke="#1c1410" stroke-width="92" stroke-linecap="round"/>
<path d="M985 1000C986 1025 986 1100 990 1150C994 1200 998 1250 1010 1300C1022 1350 1052 1425 1060 1450" fill="none" stroke="#f2a63a" stroke-width="72" stroke-linecap="round"/>
<path d="M985 1000C986 1025 986 1100 990 1150C994 1200 998 1250 1010 1300C1022 1350 1052 1425 1060 1450" fill="none" stroke="#f7c748" stroke-width="21.6" stroke-linecap="round" transform="translate(-16,0)"/>
<path d="M1032 750C1037 772 1044 838 1060 880C1076 922 1110 963 1130 1000C1150 1037 1172 1083 1180 1100" fill="none" stroke="#1c1410" stroke-width="92" stroke-linecap="round"/>
<path d="M1032 750C1037 772 1044 838 1060 880C1076 922 1110 963 1130 1000C1150 1037 1172 1083 1180 1100" fill="none" stroke="#f2a63a" stroke-width="72" stroke-linecap="round"/>
<path d="M1032 750C1037 772 1044 838 1060 880C1076 922 1110 963 1130 1000C1150 1037 1172 1083 1180 1100" fill="none" stroke="#f7c748" stroke-width="21.6" stroke-linecap="round" transform="translate(-14,0)"/>
<path d="M1240 985C1242 1012 1243 1089 1250 1150C1257 1211 1272 1292 1280 1350C1288 1408 1297 1475 1300 1500" fill="none" stroke="#1c1410" stroke-width="150" stroke-linecap="round"/>
<path d="M1240 985C1242 1012 1243 1089 1250 1150C1257 1211 1272 1292 1280 1350C1288 1408 1297 1475 1300 1500" fill="none" stroke="#f2a63a" stroke-width="130" stroke-linecap="round"/>
<path d="M1240 985C1242 1012 1243 1089 1250 1150C1257 1211 1272 1292 1280 1350C1288 1408 1297 1475 1300 1500" fill="none" stroke="#f7c748" stroke-width="32.5" stroke-linecap="round" transform="translate(-30,0)"/>
<path d="M1406 760C1405 792 1404 885 1401 950C1398 1015 1391 1075 1391 1150C1391 1225 1399 1358 1401 1400" fill="none" stroke="#1c1410" stroke-width="120" stroke-linecap="round"/>
<path d="M1406 760C1405 792 1404 885 1401 950C1398 1015 1391 1075 1391 1150C1391 1225 1399 1358 1401 1400" fill="none" stroke="#f2a63a" stroke-width="100" stroke-linecap="round"/>
<path d="M1406 760C1405 792 1404 885 1401 950C1398 1015 1391 1075 1391 1150C1391 1225 1399 1358 1401 1400" fill="none" stroke="#f7c748" stroke-width="30" stroke-linecap="round" transform="translate(20,0)"/>
<path d="M1646 800C1644 825 1644 900 1636 950C1628 1000 1617 1050 1601 1100C1585 1150 1558 1200 1541 1250C1524 1300 1508 1375 1501 1400" fill="none" stroke="#1c1410" stroke-width="115" stroke-linecap="round"/>
<path d="M1646 800C1644 825 1644 900 1636 950C1628 1000 1617 1050 1601 1100C1585 1150 1558 1200 1541 1250C1524 1300 1508 1375 1501 1400" fill="none" stroke="#f2a63a" stroke-width="95" stroke-linecap="round"/>
<path d="M1646 800C1644 825 1644 900 1636 950C1628 1000 1617 1050 1601 1100C1585 1150 1558 1200 1541 1250C1524 1300 1508 1375 1501 1400" fill="none" stroke="#f7c748" stroke-width="28.5" stroke-linecap="round" transform="translate(16,0)"/>
<path d="M1486 1110C1487 1125 1492 1160 1491 1200C1490 1240 1483 1325 1481 1350" fill="none" stroke="#1c1410" stroke-width="56" stroke-linecap="round"/>
<path d="M1486 1110C1487 1125 1492 1160 1491 1200C1490 1240 1483 1325 1481 1350" fill="none" stroke="#f7c748" stroke-width="36" stroke-linecap="round"/>
<path d="M1799 1120C1797 1138 1796 1192 1786 1230C1776 1268 1758 1308 1741 1350C1724 1392 1691 1458 1681 1480" fill="none" stroke="#1c1410" stroke-width="115" stroke-linecap="round"/>
<path d="M1799 1120C1797 1138 1796 1192 1786 1230C1776 1268 1758 1308 1741 1350C1724 1392 1691 1458 1681 1480" fill="none" stroke="#f2a63a" stroke-width="95" stroke-linecap="round"/>
<path d="M1799 1120C1797 1138 1796 1192 1786 1230C1776 1268 1758 1308 1741 1350C1724 1392 1691 1458 1681 1480" fill="none" stroke="#f7c748" stroke-width="28.5" stroke-linecap="round" transform="translate(14,0)"/>
<path d="M1316 1291C1315 1308 1310 1358 1311 1391C1312 1424 1319 1474 1321 1491" fill="none" stroke="#1c1410" stroke-width="57" stroke-linecap="round"/>
<path d="M1316 1291C1315 1308 1310 1358 1311 1391C1312 1424 1319 1474 1321 1491" fill="none" stroke="#c23a1f" stroke-width="45" stroke-linecap="round"/>
<path d="M1401 1271C1399 1288 1394 1343 1391 1371C1388 1399 1383 1429 1381 1441" fill="none" stroke="#1c1410" stroke-width="52" stroke-linecap="round"/>
<path d="M1401 1271C1399 1288 1394 1343 1391 1371C1388 1399 1383 1429 1381 1441" fill="none" stroke="#f7e0a0" stroke-width="40" stroke-linecap="round"/>
<path d="M1571 1261C1566 1278 1549 1326 1541 1361C1533 1396 1524 1453 1521 1471" fill="none" stroke="#1c1410" stroke-width="72" stroke-linecap="round"/>
<path d="M1571 1261C1566 1278 1549 1326 1541 1361C1533 1396 1524 1453 1521 1471" fill="none" stroke="#c9401f" stroke-width="60" stroke-linecap="round"/>
<path d="M1020 1571C1020 1544 1053 1513 1100 1491C1147 1469 1245 1441 1303 1441C1361 1441 1417 1466 1450 1491C1483 1516 1502 1554 1500 1591C1498 1628 1457 1678 1440 1711C1423 1744 1423 1776 1400 1786C1377 1796 1336 1778 1303 1771C1270 1764 1234 1761 1200 1741C1166 1721 1130 1679 1100 1651C1070 1623 1020 1598 1020 1571Z" fill="#f2a63a" stroke="none" stroke-width="0" />
<path d="M960 1581C983 1594 1055 1631 1100 1661C1145 1691 1196 1744 1230 1761C1264 1778 1291 1765 1303 1766" fill="none" stroke="#1c1410" stroke-width="9" stroke-linecap="round"/>
<path d="M1401 1801C1408 1788 1418 1751 1441 1721C1464 1691 1514 1644 1541 1621C1568 1598 1591 1588 1601 1581" fill="none" stroke="#1c1410" stroke-width="9" stroke-linecap="round"/>
<path d="M1300 1480C1302 1500 1305 1560 1310 1600C1315 1640 1327 1700 1330 1720" fill="none" stroke="#8a3a1a" stroke-width="7" stroke-linecap="round"/>
<path d="M1380 1500C1379 1520 1377 1580 1375 1620C1373 1660 1371 1720 1370 1740" fill="none" stroke="#8a3a1a" stroke-width="7" stroke-linecap="round"/>
<path d="M1230 1520C1235 1540 1250 1603 1260 1640C1270 1677 1285 1723 1290 1740" fill="none" stroke="#8a3a1a" stroke-width="7" stroke-linecap="round"/>
<path d="M1450 1480C1447 1500 1438 1560 1430 1600C1422 1640 1405 1700 1400 1720" fill="none" stroke="#8a3a1a" stroke-width="7" stroke-linecap="round"/>
<ellipse cx="735" cy="495" rx="40" ry="66" fill="#c8457f" stroke="#1c1410" stroke-width="8" transform="rotate(-22 735 495)"/>
<ellipse cx="725" cy="471.9" rx="14" ry="26.4" fill="#e98bb8" stroke="none" stroke-width="0" transform="rotate(-22 725 471.9)"/>
<ellipse cx="945" cy="340" rx="44" ry="62" fill="#c8457f" stroke="#1c1410" stroke-width="8" transform="rotate(-10 945 340)"/>
<ellipse cx="934" cy="318.3" rx="15.4" ry="24.8" fill="#e98bb8" stroke="none" stroke-width="0" transform="rotate(-10 934 318.3)"/>
<ellipse cx="1240" cy="140" rx="58" ry="100" fill="#c8457f" stroke="#1c1410" stroke-width="8" transform="rotate(0 1240 140)"/>
<ellipse cx="1225.5" cy="105" rx="20.3" ry="40" fill="#e98bb8" stroke="none" stroke-width="0" transform="rotate(0 1225.5 105)"/>
<ellipse cx="1531" cy="335" rx="58" ry="84" fill="#c8457f" stroke="#1c1410" stroke-width="8" transform="rotate(-5 1531 335)"/>
<ellipse cx="1516.5" cy="305.6" rx="20.3" ry="33.6" fill="#e98bb8" stroke="none" stroke-width="0" transform="rotate(-5 1516.5 305.6)"/>
<ellipse cx="1903" cy="495" rx="48" ry="80" fill="#c8457f" stroke="#1c1410" stroke-width="8" transform="rotate(0 1903 495)"/>
<ellipse cx="1891" cy="467" rx="16.8" ry="32" fill="#e98bb8" stroke="none" stroke-width="0" transform="rotate(0 1891 467)"/>
<ellipse cx="735" cy="655" rx="12" ry="17" fill="#f7d060" stroke="#7a3a1a" stroke-width="5" transform="rotate(0 735 655)"/>
<ellipse cx="850" cy="625" rx="12" ry="17" fill="#f7d060" stroke="#7a3a1a" stroke-width="5" transform="rotate(0 850 625)"/>
<ellipse cx="790" cy="800" rx="12" ry="17" fill="#f7d060" stroke="#7a3a1a" stroke-width="5" transform="rotate(0 790 800)"/>
<ellipse cx="1240" cy="455" rx="12" ry="17" fill="#f7d060" stroke="#7a3a1a" stroke-width="5" transform="rotate(0 1240 455)"/>
<ellipse cx="1240" cy="530" rx="12" ry="17" fill="#f7d060" stroke="#7a3a1a" stroke-width="5" transform="rotate(0 1240 530)"/>
<ellipse cx="1225" cy="625" rx="12" ry="17" fill="#f7d060" stroke="#7a3a1a" stroke-width="5" transform="rotate(0 1225 625)"/>
<ellipse cx="1280" cy="375" rx="12" ry="17" fill="#f7d060" stroke="#7a3a1a" stroke-width="5" transform="rotate(0 1280 375)"/>
<ellipse cx="1276" cy="375" rx="12" ry="17" fill="#f7d060" stroke="#7a3a1a" stroke-width="5" transform="rotate(0 1276 375)"/>
<ellipse cx="1386" cy="605" rx="12" ry="17" fill="#f7d060" stroke="#7a3a1a" stroke-width="5" transform="rotate(0 1386 605)"/>
<ellipse cx="1526" cy="530" rx="12" ry="17" fill="#f7d060" stroke="#7a3a1a" stroke-width="5" transform="rotate(0 1526 530)"/>
<ellipse cx="1626" cy="610" rx="12" ry="17" fill="#f7d060" stroke="#7a3a1a" stroke-width="5" transform="rotate(0 1626 610)"/>
<ellipse cx="1846" cy="635" rx="12" ry="17" fill="#f7d060" stroke="#7a3a1a" stroke-width="5" transform="rotate(0 1846 635)"/>
<ellipse cx="1856" cy="765" rx="12" ry="17" fill="#f7d060" stroke="#7a3a1a" stroke-width="5" transform="rotate(0 1856 765)"/>
<ellipse cx="1896" cy="835" rx="12" ry="17" fill="#f7d060" stroke="#7a3a1a" stroke-width="5" transform="rotate(0 1896 835)"/>
<ellipse cx="1831" cy="885" rx="12" ry="17" fill="#f7d060" stroke="#7a3a1a" stroke-width="5" transform="rotate(0 1831 885)"/>
<ellipse cx="1766" cy="960" rx="12" ry="17" fill="#f7d060" stroke="#7a3a1a" stroke-width="5" transform="rotate(0 1766 960)"/>
<ellipse cx="1861" cy="955" rx="12" ry="17" fill="#f7d060" stroke="#7a3a1a" stroke-width="5" transform="rotate(0 1861 955)"/>
<ellipse cx="2056" cy="955" rx="12" ry="17" fill="#f7d060" stroke="#7a3a1a" stroke-width="5" transform="rotate(0 2056 955)"/>
<ellipse cx="2036" cy="1060" rx="12" ry="17" fill="#f7d060" stroke="#7a3a1a" stroke-width="5" transform="rotate(0 2036 1060)"/>
<ellipse cx="1971" cy="1160" rx="12" ry="17" fill="#f7d060" stroke="#7a3a1a" stroke-width="5" transform="rotate(0 1971 1160)"/>
<ellipse cx="1921" cy="1220" rx="12" ry="17" fill="#f7d060" stroke="#7a3a1a" stroke-width="5" transform="rotate(0 1921 1220)"/>
<ellipse cx="1376" cy="825" rx="12" ry="17" fill="#f7d060" stroke="#7a3a1a" stroke-width="5" transform="rotate(0 1376 825)"/>
<ellipse cx="1826" cy="1135" rx="12" ry="17" fill="#f7d060" stroke="#7a3a1a" stroke-width="5" transform="rotate(0 1826 1135)"/>
<ellipse cx="1681" cy="1135" rx="12" ry="17" fill="#f7d060" stroke="#7a3a1a" stroke-width="5" transform="rotate(0 1681 1135)"/>
<path d="M1891 1391C1883 1374 1874 1346 1881 1331C1888 1316 1914 1308 1931 1301C1948 1294 1971 1283 1981 1291C1991 1299 1994 1329 1991 1351C1988 1373 1971 1408 1961 1421C1951 1434 1943 1436 1931 1431C1919 1426 1899 1408 1891 1391Z" fill="#d9506a" stroke="#1c1410" stroke-width="7" />
<ellipse cx="560" cy="2361" rx="500" ry="85" fill="#8a9e58" stroke="none" stroke-width="0" transform="rotate(0 560 2361)"/>
<path d="M532 2344C514 2326 458 2277 421 2244C384 2210 345 2173 310 2144C276 2115 239 2084 213 2069C186 2055 166 2055 151 2056C136 2057 126 2067 120 2076C114 2085 109 2098 114 2112C119 2127 126 2145 150 2164C174 2182 217 2204 258 2224C298 2245 348 2266 393 2286C438 2307 505 2339 528 2348C552 2358 549 2361 532 2344Z" fill="#ee7b6b" stroke="#1c1410" stroke-width="8" />
<path d="M239 2145C232 2139 200 2116 192 2110" fill="none" stroke="#8a2a2a" stroke-width="6" stroke-linecap="round"/>
<path d="M532 2344C519 2320 476 2250 448 2204C420 2157 391 2105 364 2063C336 2022 308 1978 284 1954C261 1930 241 1923 224 1920C207 1916 195 1923 185 1931C175 1939 166 1950 167 1967C167 1984 170 2006 189 2033C208 2060 246 2096 282 2131C318 2165 364 2203 405 2239C446 2276 506 2331 528 2348C549 2365 546 2368 532 2344Z" fill="#ee7b6b" stroke="#1c1410" stroke-width="8" />
<path d="M289 2041C282 2033 256 1998 250 1989" fill="none" stroke="#8a2a2a" stroke-width="6" stroke-linecap="round"/>
<path d="M531 2349C557 2342 634 2319 685 2305C737 2290 793 2276 840 2261C886 2246 935 2230 963 2214C992 2198 1003 2180 1011 2166C1019 2151 1015 2137 1010 2126C1005 2115 997 2103 980 2099C964 2096 943 2093 913 2104C882 2115 838 2142 796 2167C755 2192 707 2226 663 2255C618 2285 551 2328 529 2343C507 2359 505 2355 531 2349Z" fill="#f3978a" stroke="#1c1410" stroke-width="8" />
<path d="M879 2196C889 2192 928 2176 938 2172" fill="none" stroke="#8a2a2a" stroke-width="6" stroke-linecap="round"/>
<path d="M532 2349C557 2338 630 2301 679 2278C728 2254 783 2230 827 2206C871 2183 917 2159 943 2138C969 2117 977 2097 983 2081C988 2065 982 2051 975 2041C968 2031 958 2020 941 2019C924 2019 902 2019 873 2036C844 2052 805 2087 767 2120C730 2152 688 2194 648 2231C608 2269 548 2324 528 2343C509 2363 507 2360 532 2349Z" fill="#e4566e" stroke="#1c1410" stroke-width="8" />
<path d="M856 2134C865 2128 902 2106 911 2100" fill="none" stroke="#8a2a2a" stroke-width="6" stroke-linecap="round"/>
<path d="M533 2345C525 2316 497 2234 479 2178C461 2123 443 2062 424 2012C406 1962 387 1909 368 1878C350 1848 330 1836 313 1829C297 1821 282 1825 270 1831C258 1837 246 1847 242 1864C239 1882 236 1905 250 1938C263 1971 294 2018 324 2062C353 2107 391 2157 425 2205C459 2252 509 2324 527 2347C545 2371 541 2373 533 2345Z" fill="#f3978a" stroke="#1c1410" stroke-width="8" />
<path d="M352 1971C347 1960 328 1918 323 1907" fill="none" stroke="#8a2a2a" stroke-width="6" stroke-linecap="round"/>
<path d="M532 2348C555 2333 622 2284 667 2252C711 2220 761 2187 801 2156C841 2125 883 2093 905 2068C927 2043 932 2021 935 2004C937 1987 929 1975 920 1966C911 1957 899 1948 882 1950C865 1953 844 1957 818 1978C792 2000 759 2041 727 2080C695 2119 661 2168 627 2212C594 2256 544 2321 528 2344C512 2366 509 2364 532 2348Z" fill="#ee7b6b" stroke="#1c1410" stroke-width="8" />
<path d="M817 2079C826 2072 858 2043 866 2036" fill="none" stroke="#8a2a2a" stroke-width="6" stroke-linecap="round"/>
<path d="M533 2348C553 2327 611 2262 651 2219C690 2175 735 2130 769 2089C803 2049 840 2006 857 1975C875 1944 875 1921 874 1902C872 1884 861 1873 850 1866C839 1859 824 1852 807 1858C790 1864 769 1873 747 1901C725 1929 699 1979 675 2027C651 2074 626 2133 601 2185C577 2238 539 2317 527 2344C516 2371 512 2369 533 2348Z" fill="#f3978a" stroke="#1c1410" stroke-width="8" />
<path d="M769 2006C776 1997 803 1959 810 1950" fill="none" stroke="#8a2a2a" stroke-width="6" stroke-linecap="round"/>
<path d="M533 2345C532 2313 524 2216 519 2152C514 2087 511 2017 504 1958C497 1899 491 1837 479 1799C468 1762 450 1744 435 1731C420 1717 404 1718 390 1721C376 1724 361 1731 353 1749C345 1767 337 1791 343 1830C348 1869 369 1928 388 1984C407 2040 434 2105 457 2165C480 2226 514 2317 527 2347C539 2377 535 2378 533 2345Z" fill="#ee7b6b" stroke="#1c1410" stroke-width="8" />
<path d="M439 1894C437 1881 428 1831 426 1818" fill="none" stroke="#8a2a2a" stroke-width="6" stroke-linecap="round"/>
<path d="M533 2347C550 2323 596 2248 628 2198C660 2148 696 2095 723 2048C750 2001 779 1952 791 1918C803 1884 799 1861 795 1843C790 1825 777 1816 765 1811C753 1806 737 1802 721 1811C705 1820 685 1832 668 1864C651 1896 635 1951 619 2002C603 2054 588 2116 573 2173C558 2230 534 2316 527 2345C520 2374 516 2372 533 2347Z" fill="#ee7b6b" stroke="#1c1410" stroke-width="8" />
<path d="M708 1965C714 1954 734 1912 740 1902" fill="none" stroke="#8a2a2a" stroke-width="6" stroke-linecap="round"/>
<path d="M533 2347C545 2317 574 2227 594 2168C614 2108 638 2044 655 1989C671 1934 688 1876 692 1837C696 1799 687 1776 678 1759C669 1741 654 1735 640 1733C626 1731 610 1731 595 1744C581 1757 564 1775 555 1813C545 1850 541 1910 537 1968C534 2025 534 2094 532 2157C530 2219 526 2314 527 2345C527 2377 522 2376 533 2347Z" fill="#f3978a" stroke="#1c1410" stroke-width="8" />
<path d="M620 1906C622 1894 633 1846 636 1834" fill="none" stroke="#8a2a2a" stroke-width="6" stroke-linecap="round"/>
<path d="M533 2346C538 2315 549 2223 556 2161C564 2100 574 2033 579 1976C583 1920 589 1861 585 1823C581 1785 567 1765 555 1750C542 1735 526 1733 512 1733C498 1733 482 1737 471 1753C459 1768 447 1789 445 1827C443 1865 452 1924 460 1980C468 2036 482 2102 493 2163C504 2224 520 2316 527 2346C533 2377 529 2377 533 2346Z" fill="#ee7b6b" stroke="#1c1410" stroke-width="8" />
<path d="M528 1904C528 1892 529 1843 529 1831" fill="none" stroke="#8a2a2a" stroke-width="6" stroke-linecap="round"/>
<path d="M330 2341C343 2329 438 2285 530 2281C622 2277 852 2304 880 2316C908 2328 772 2345 700 2351C628 2357 512 2355 450 2353C388 2351 317 2353 330 2341Z" fill="#e4566e" stroke="none" stroke-width="11" />
<path d="M330 2341C358 2343 438 2350 500 2351C562 2352 637 2355 700 2349C763 2343 850 2322 880 2316" fill="none" stroke="#1c1410" stroke-width="8" stroke-linecap="round"/>
<ellipse cx="1881" cy="2326" rx="400" ry="60" fill="#8a9e58" stroke="none" stroke-width="0" transform="rotate(0 1881 2326)"/>
<path d="M1711 1491C1719 1516 1739 1591 1761 1641C1783 1691 1828 1766 1841 1791" fill="none" stroke="#1c1410" stroke-width="86" stroke-linecap="round"/>
<path d="M1831 1456C1828 1475 1806 1524 1811 1571C1816 1618 1853 1713 1861 1741" fill="none" stroke="#1c1410" stroke-width="86" stroke-linecap="round"/>
<path d="M1891 1581C1896 1599 1916 1673 1921 1691" fill="none" stroke="#1c1410" stroke-width="86" stroke-linecap="round"/>
<path d="M2011 1526C2009 1545 2009 1597 2001 1641C1993 1685 1968 1766 1961 1791" fill="none" stroke="#1c1410" stroke-width="86" stroke-linecap="round"/>
<path d="M2131 1531C2121 1549 2093 1596 2071 1641C2049 1686 2013 1774 2001 1801" fill="none" stroke="#1c1410" stroke-width="86" stroke-linecap="round"/>
<path d="M2161 1711C2144 1719 2091 1736 2061 1761C2031 1786 1994 1844 1981 1861" fill="none" stroke="#1c1410" stroke-width="86" stroke-linecap="round"/>
<path d="M1651 1601C1656 1621 1666 1678 1681 1721C1696 1764 1731 1838 1741 1861" fill="none" stroke="#1c1410" stroke-width="86" stroke-linecap="round"/>
<path d="M1571 1736C1586 1750 1629 1790 1661 1821C1693 1852 1744 1904 1761 1921" fill="none" stroke="#1c1410" stroke-width="86" stroke-linecap="round"/>
<path d="M1466 1776C1484 1794 1528 1850 1571 1881C1614 1912 1696 1948 1721 1961" fill="none" stroke="#1c1410" stroke-width="86" stroke-linecap="round"/>
<path d="M1801 1741C1804 1758 1818 1824 1821 1841" fill="none" stroke="#1c1410" stroke-width="86" stroke-linecap="round"/>
<path d="M1881 1831C1878 1843 1864 1889 1861 1901" fill="none" stroke="#1c1410" stroke-width="86" stroke-linecap="round"/>
<path d="M2241 1856C2228 1862 2189 1874 2161 1891C2133 1908 2086 1949 2071 1961" fill="none" stroke="#1c1410" stroke-width="86" stroke-linecap="round"/>
<path d="M2271 1976C2254 1976 2201 1972 2171 1976C2141 1980 2104 1997 2091 2001" fill="none" stroke="#1c1410" stroke-width="86" stroke-linecap="round"/>
<path d="M2111 1841C2113 1854 2119 1908 2121 1921" fill="none" stroke="#1c1410" stroke-width="86" stroke-linecap="round"/>
<path d="M2091 1901C2088 1924 2074 2018 2071 2041" fill="none" stroke="#1c1410" stroke-width="86" stroke-linecap="round"/>
<path d="M1981 1891C1984 1916 1998 2016 2001 2041" fill="none" stroke="#1c1410" stroke-width="86" stroke-linecap="round"/>
<path d="M2251 2096C2233 2096 2176 2092 2141 2096C2106 2100 2058 2117 2041 2121" fill="none" stroke="#1c1410" stroke-width="86" stroke-linecap="round"/>
<path d="M2201 2226C2188 2219 2148 2197 2121 2186C2094 2175 2054 2165 2041 2161" fill="none" stroke="#1c1410" stroke-width="86" stroke-linecap="round"/>
<path d="M1436 2036C1454 2043 1498 2058 1541 2076C1584 2094 1666 2130 1691 2141" fill="none" stroke="#1c1410" stroke-width="86" stroke-linecap="round"/>
<path d="M1516 1946C1528 1962 1557 2012 1591 2041C1625 2070 1699 2108 1721 2121" fill="none" stroke="#1c1410" stroke-width="86" stroke-linecap="round"/>
<path d="M1711 2001C1716 2016 1736 2076 1741 2091" fill="none" stroke="#1c1410" stroke-width="86" stroke-linecap="round"/>
<path d="M1801 2051C1803 2066 1809 2126 1811 2141" fill="none" stroke="#1c1410" stroke-width="86" stroke-linecap="round"/>
<path d="M1901 2051C1898 2066 1884 2126 1881 2141" fill="none" stroke="#1c1410" stroke-width="86" stroke-linecap="round"/>
<path d="M1981 2076C1973 2092 1939 2155 1931 2171" fill="none" stroke="#1c1410" stroke-width="86" stroke-linecap="round"/>
<path d="M2001 2176C1988 2184 1934 2214 1921 2221" fill="none" stroke="#1c1410" stroke-width="86" stroke-linecap="round"/>
<path d="M1476 2126C1495 2134 1547 2158 1591 2171C1635 2184 1716 2196 1741 2201" fill="none" stroke="#1c1410" stroke-width="86" stroke-linecap="round"/>
<path d="M1586 2256C1598 2249 1628 2222 1661 2216C1694 2210 1761 2220 1781 2221" fill="none" stroke="#1c1410" stroke-width="86" stroke-linecap="round"/>
<path d="M1786 2316C1788 2304 1792 2265 1801 2241C1810 2217 1834 2183 1841 2171" fill="none" stroke="#1c1410" stroke-width="86" stroke-linecap="round"/>
<path d="M1961 2296C1954 2285 1928 2242 1921 2231" fill="none" stroke="#1c1410" stroke-width="86" stroke-linecap="round"/>
<path d="M2021 2251C2008 2243 1954 2209 1941 2201" fill="none" stroke="#1c1410" stroke-width="86" stroke-linecap="round"/>
<ellipse cx="1861" cy="2141" rx="208" ry="123" fill="#1c1410" stroke="none" stroke-width="0" transform="rotate(0 1861 2141)"/>
<ellipse cx="1941" cy="1841" rx="133" ry="158" fill="#1c1410" stroke="none" stroke-width="0" transform="rotate(0 1941 1841)"/>
<ellipse cx="1691" cy="1891" rx="118" ry="128" fill="#1c1410" stroke="none" stroke-width="0" transform="rotate(0 1691 1891)"/>
<ellipse cx="2101" cy="2031" rx="98" ry="128" fill="#1c1410" stroke="none" stroke-width="0" transform="rotate(0 2101 2031)"/>
<path d="M1711 1491C1719 1516 1739 1591 1761 1641C1783 1691 1828 1766 1841 1791" fill="none" stroke="#e8566a" stroke-width="70" stroke-linecap="round"/>
<path d="M1831 1456C1828 1475 1806 1524 1811 1571C1816 1618 1853 1713 1861 1741" fill="none" stroke="#e8566a" stroke-width="70" stroke-linecap="round"/>
<path d="M1891 1581C1896 1599 1916 1673 1921 1691" fill="none" stroke="#e8566a" stroke-width="70" stroke-linecap="round"/>
<path d="M2011 1526C2009 1545 2009 1597 2001 1641C1993 1685 1968 1766 1961 1791" fill="none" stroke="#e8566a" stroke-width="70" stroke-linecap="round"/>
<path d="M2131 1531C2121 1549 2093 1596 2071 1641C2049 1686 2013 1774 2001 1801" fill="none" stroke="#e8566a" stroke-width="70" stroke-linecap="round"/>
<path d="M2161 1711C2144 1719 2091 1736 2061 1761C2031 1786 1994 1844 1981 1861" fill="none" stroke="#e8566a" stroke-width="70" stroke-linecap="round"/>
<path d="M1651 1601C1656 1621 1666 1678 1681 1721C1696 1764 1731 1838 1741 1861" fill="none" stroke="#e8566a" stroke-width="70" stroke-linecap="round"/>
<path d="M1571 1736C1586 1750 1629 1790 1661 1821C1693 1852 1744 1904 1761 1921" fill="none" stroke="#e8566a" stroke-width="70" stroke-linecap="round"/>
<path d="M1466 1776C1484 1794 1528 1850 1571 1881C1614 1912 1696 1948 1721 1961" fill="none" stroke="#e8566a" stroke-width="70" stroke-linecap="round"/>
<path d="M1801 1741C1804 1758 1818 1824 1821 1841" fill="none" stroke="#e8566a" stroke-width="70" stroke-linecap="round"/>
<path d="M1881 1831C1878 1843 1864 1889 1861 1901" fill="none" stroke="#e8566a" stroke-width="70" stroke-linecap="round"/>
<path d="M2241 1856C2228 1862 2189 1874 2161 1891C2133 1908 2086 1949 2071 1961" fill="none" stroke="#e8566a" stroke-width="70" stroke-linecap="round"/>
<path d="M2271 1976C2254 1976 2201 1972 2171 1976C2141 1980 2104 1997 2091 2001" fill="none" stroke="#e8566a" stroke-width="70" stroke-linecap="round"/>
<path d="M2111 1841C2113 1854 2119 1908 2121 1921" fill="none" stroke="#e8566a" stroke-width="70" stroke-linecap="round"/>
<path d="M2091 1901C2088 1924 2074 2018 2071 2041" fill="none" stroke="#e8566a" stroke-width="70" stroke-linecap="round"/>
<path d="M1981 1891C1984 1916 1998 2016 2001 2041" fill="none" stroke="#e8566a" stroke-width="70" stroke-linecap="round"/>
<path d="M2251 2096C2233 2096 2176 2092 2141 2096C2106 2100 2058 2117 2041 2121" fill="none" stroke="#e8566a" stroke-width="70" stroke-linecap="round"/>
<path d="M2201 2226C2188 2219 2148 2197 2121 2186C2094 2175 2054 2165 2041 2161" fill="none" stroke="#e8566a" stroke-width="70" stroke-linecap="round"/>
<path d="M1436 2036C1454 2043 1498 2058 1541 2076C1584 2094 1666 2130 1691 2141" fill="none" stroke="#e8566a" stroke-width="70" stroke-linecap="round"/>
<path d="M1516 1946C1528 1962 1557 2012 1591 2041C1625 2070 1699 2108 1721 2121" fill="none" stroke="#e8566a" stroke-width="70" stroke-linecap="round"/>
<path d="M1711 2001C1716 2016 1736 2076 1741 2091" fill="none" stroke="#e8566a" stroke-width="70" stroke-linecap="round"/>
<path d="M1801 2051C1803 2066 1809 2126 1811 2141" fill="none" stroke="#e8566a" stroke-width="70" stroke-linecap="round"/>
<path d="M1901 2051C1898 2066 1884 2126 1881 2141" fill="none" stroke="#e8566a" stroke-width="70" stroke-linecap="round"/>
<path d="M1981 2076C1973 2092 1939 2155 1931 2171" fill="none" stroke="#e8566a" stroke-width="70" stroke-linecap="round"/>
<path d="M2001 2176C1988 2184 1934 2214 1921 2221" fill="none" stroke="#e8566a" stroke-width="70" stroke-linecap="round"/>
<path d="M1476 2126C1495 2134 1547 2158 1591 2171C1635 2184 1716 2196 1741 2201" fill="none" stroke="#e8566a" stroke-width="70" stroke-linecap="round"/>
<path d="M1586 2256C1598 2249 1628 2222 1661 2216C1694 2210 1761 2220 1781 2221" fill="none" stroke="#e8566a" stroke-width="70" stroke-linecap="round"/>
<path d="M1786 2316C1788 2304 1792 2265 1801 2241C1810 2217 1834 2183 1841 2171" fill="none" stroke="#e8566a" stroke-width="70" stroke-linecap="round"/>
<path d="M1961 2296C1954 2285 1928 2242 1921 2231" fill="none" stroke="#e8566a" stroke-width="70" stroke-linecap="round"/>
<path d="M2021 2251C2008 2243 1954 2209 1941 2201" fill="none" stroke="#e8566a" stroke-width="70" stroke-linecap="round"/>
<ellipse cx="1861" cy="2141" rx="200" ry="115" fill="#e8566a" stroke="none" stroke-width="0" transform="rotate(0 1861 2141)"/>
<ellipse cx="1941" cy="1841" rx="125" ry="150" fill="#e8566a" stroke="none" stroke-width="0" transform="rotate(0 1941 1841)"/>
<ellipse cx="1691" cy="1891" rx="110" ry="120" fill="#e8566a" stroke="none" stroke-width="0" transform="rotate(0 1691 1891)"/>
<ellipse cx="2101" cy="2031" rx="90" ry="120" fill="#e8566a" stroke="none" stroke-width="0" transform="rotate(0 2101 2031)"/>
<path d="M1711 1491C1719 1516 1753 1616 1761 1641" fill="none" stroke="#f27f8c" stroke-width="22" stroke-linecap="round" transform="translate(-10,-6)"/>
<path d="M1831 1456C1828 1475 1814 1552 1811 1571" fill="none" stroke="#f27f8c" stroke-width="22" stroke-linecap="round" transform="translate(-10,-6)"/>
<path d="M1891 1581C1896 1599 1916 1673 1921 1691" fill="none" stroke="#f27f8c" stroke-width="22" stroke-linecap="round" transform="translate(-10,-6)"/>
<path d="M2011 1526C2009 1545 2003 1622 2001 1641" fill="none" stroke="#f27f8c" stroke-width="22" stroke-linecap="round" transform="translate(-10,-6)"/>
<path d="M2131 1531C2121 1549 2081 1623 2071 1641" fill="none" stroke="#f27f8c" stroke-width="22" stroke-linecap="round" transform="translate(-10,-6)"/>
<path d="M2161 1711C2144 1719 2078 1753 2061 1761" fill="none" stroke="#f27f8c" stroke-width="22" stroke-linecap="round" transform="translate(-10,-6)"/>
<path d="M1651 1601C1656 1621 1676 1701 1681 1721" fill="none" stroke="#f27f8c" stroke-width="22" stroke-linecap="round" transform="translate(-10,-6)"/>
<path d="M1571 1736C1586 1750 1646 1807 1661 1821" fill="none" stroke="#f27f8c" stroke-width="22" stroke-linecap="round" transform="translate(-10,-6)"/>
<path d="M1466 1776C1484 1794 1554 1864 1571 1881" fill="none" stroke="#f27f8c" stroke-width="22" stroke-linecap="round" transform="translate(-10,-6)"/>
<path d="M1801 1741C1804 1758 1818 1824 1821 1841" fill="none" stroke="#f27f8c" stroke-width="22" stroke-linecap="round" transform="translate(-10,-6)"/>
<path d="M1881 1831C1878 1843 1864 1889 1861 1901" fill="none" stroke="#f27f8c" stroke-width="22" stroke-linecap="round" transform="translate(-10,-6)"/>
<path d="M2241 1856C2228 1862 2174 1885 2161 1891" fill="none" stroke="#f27f8c" stroke-width="22" stroke-linecap="round" transform="translate(-10,-6)"/>
<path d="M2271 1976C2254 1976 2188 1976 2171 1976" fill="none" stroke="#f27f8c" stroke-width="22" stroke-linecap="round" transform="translate(-10,-6)"/>
<path d="M2111 1841C2113 1854 2119 1908 2121 1921" fill="none" stroke="#f27f8c" stroke-width="22" stroke-linecap="round" transform="translate(-10,-6)"/>
<path d="M2091 1901C2088 1924 2074 2018 2071 2041" fill="none" stroke="#f27f8c" stroke-width="22" stroke-linecap="round" transform="translate(-10,-6)"/>
<path d="M1981 1891C1984 1916 1998 2016 2001 2041" fill="none" stroke="#f27f8c" stroke-width="22" stroke-linecap="round" transform="translate(-10,-6)"/>
<path d="M2251 2096C2233 2096 2159 2096 2141 2096" fill="none" stroke="#f27f8c" stroke-width="22" stroke-linecap="round" transform="translate(-10,-6)"/>
<path d="M2201 2226C2188 2219 2134 2193 2121 2186" fill="none" stroke="#f27f8c" stroke-width="22" stroke-linecap="round" transform="translate(-10,-6)"/>
<path d="M1436 2036C1454 2043 1524 2069 1541 2076" fill="none" stroke="#f27f8c" stroke-width="22" stroke-linecap="round" transform="translate(-10,-6)"/>
<path d="M1516 1946C1528 1962 1578 2025 1591 2041" fill="none" stroke="#f27f8c" stroke-width="22" stroke-linecap="round" transform="translate(-10,-6)"/>
<path d="M1711 2001C1716 2016 1736 2076 1741 2091" fill="none" stroke="#f27f8c" stroke-width="22" stroke-linecap="round" transform="translate(-10,-6)"/>
<path d="M1801 2051C1803 2066 1809 2126 1811 2141" fill="none" stroke="#f27f8c" stroke-width="22" stroke-linecap="round" transform="translate(-10,-6)"/>
<path d="M1901 2051C1898 2066 1884 2126 1881 2141" fill="none" stroke="#f27f8c" stroke-width="22" stroke-linecap="round" transform="translate(-10,-6)"/>
<path d="M1981 2076C1973 2092 1939 2155 1931 2171" fill="none" stroke="#f27f8c" stroke-width="22" stroke-linecap="round" transform="translate(-10,-6)"/>
<path d="M2001 2176C1988 2184 1934 2214 1921 2221" fill="none" stroke="#f27f8c" stroke-width="22" stroke-linecap="round" transform="translate(-10,-6)"/>
<path d="M1476 2126C1495 2134 1572 2164 1591 2171" fill="none" stroke="#f27f8c" stroke-width="22" stroke-linecap="round" transform="translate(-10,-6)"/>
<path d="M1586 2256C1598 2249 1648 2223 1661 2216" fill="none" stroke="#f27f8c" stroke-width="22" stroke-linecap="round" transform="translate(-10,-6)"/>
<path d="M1786 2316C1788 2304 1798 2254 1801 2241" fill="none" stroke="#f27f8c" stroke-width="22" stroke-linecap="round" transform="translate(-10,-6)"/>
<path d="M1961 2296C1954 2285 1928 2242 1921 2231" fill="none" stroke="#f27f8c" stroke-width="22" stroke-linecap="round" transform="translate(-10,-6)"/>
<path d="M2021 2251C2008 2243 1954 2209 1941 2201" fill="none" stroke="#f27f8c" stroke-width="22" stroke-linecap="round" transform="translate(-10,-6)"/>
<ellipse cx="130" cy="2431" rx="65" ry="35" fill="#3f8fe0" stroke="#1c1410" stroke-width="6" transform="rotate(0 130 2431)"/>
<ellipse cx="117" cy="2420.5" rx="29.25" ry="14" fill="#8fd0f5" stroke="none" stroke-width="0" transform="rotate(0 117 2420.5)"/>
<ellipse cx="420" cy="2491" rx="22" ry="16" fill="#3f8fe0" stroke="#1c1410" stroke-width="6" transform="rotate(0 420 2491)"/>
<ellipse cx="415.6" cy="2486.2" rx="9.9" ry="6.4" fill="#8fd0f5" stroke="none" stroke-width="0" transform="rotate(0 415.6 2486.2)"/>
<ellipse cx="1346" cy="2256" rx="55" ry="30" fill="#3f8fe0" stroke="#1c1410" stroke-width="6" transform="rotate(0 1346 2256)"/>
<ellipse cx="1335" cy="2247" rx="24.75" ry="12" fill="#8fd0f5" stroke="none" stroke-width="0" transform="rotate(0 1335 2247)"/>
<ellipse cx="2436" cy="2136" rx="30" ry="15" fill="#3f8fe0" stroke="#1c1410" stroke-width="6" transform="rotate(0 2436 2136)"/>
<ellipse cx="2430" cy="2131.5" rx="13.5" ry="6" fill="#8fd0f5" stroke="none" stroke-width="0" transform="rotate(0 2430 2131.5)"/>
<ellipse cx="2356" cy="2216" rx="25" ry="15" fill="#3f8fe0" stroke="#1c1410" stroke-width="6" transform="rotate(0 2356 2216)"/>
<ellipse cx="2351" cy="2211.5" rx="11.25" ry="6" fill="#8fd0f5" stroke="none" stroke-width="0" transform="rotate(0 2351 2211.5)"/>
<ellipse cx="2401" cy="2401" rx="35" ry="15" fill="#3f8fe0" stroke="#1c1410" stroke-width="6" transform="rotate(0 2401 2401)"/>
<ellipse cx="2394" cy="2396.5" rx="15.75" ry="6" fill="#8fd0f5" stroke="none" stroke-width="0" transform="rotate(0 2394 2396.5)"/>
<ellipse cx="2146" cy="2481" rx="22" ry="12" fill="#3f8fe0" stroke="#1c1410" stroke-width="6" transform="rotate(0 2146 2481)"/>
<ellipse cx="2141.6" cy="2477.4" rx="9.9" ry="4.8" fill="#8fd0f5" stroke="none" stroke-width="0" transform="rotate(0 2141.6 2477.4)"/>
<ellipse cx="2291" cy="2371" rx="14" ry="14" fill="#2a2a2a" stroke="none" stroke-width="0" transform="rotate(0 2291 2371)"/>
<ellipse cx="2281" cy="2466" rx="14" ry="14" fill="#2a2a2a" stroke="none" stroke-width="0" transform="rotate(0 2281 2466)"/>
<ellipse cx="2436" cy="1971" rx="8" ry="8" fill="#2a2a2a" stroke="none" stroke-width="0" transform="rotate(0 2436 1971)"/>
<ellipse cx="2376" cy="1891" rx="10" ry="10" fill="#2a2a2a" stroke="none" stroke-width="0" transform="rotate(0 2376 1891)"/>
<ellipse cx="1240" cy="2341" rx="10" ry="10" fill="#2a2a2a" stroke="none" stroke-width="0" transform="rotate(0 1240 2341)"/>
<ellipse cx="70" cy="2016" rx="12" ry="12" fill="#2a2a2a" stroke="none" stroke-width="0" transform="rotate(0 70 2016)"/>
<ellipse cx="105" cy="2036" rx="12" ry="12" fill="#2a2a2a" stroke="none" stroke-width="0" transform="rotate(0 105 2036)"/>
</g>
<!--/CORALIMG-->
<path d="M617.9 1103.6C618.1 1098 617.9 1079.7 618.9 1069.7C619.9 1059.7 622.1 1050.8 623.9 1043.8C625.7 1036.8 628.9 1030.5 629.9 1027.8" fill="none" stroke="#1b6a99" stroke-width="4.600"/><path d="M635.9 1018.4 L617.9 1030.8 L634.9 1039.8 Z" fill="#1b6a99"/><path d="M857.4 1048.8C856 1046.9 854 1041.1 849.4 1037.8C844.7 1034.5 839.4 1031.6 829.4 1028.8C819.5 1026 801.2 1022.7 789.5 1020.8C777.9 1019 764.6 1018.3 759.6 1017.8" fill="none" stroke="#1b6a99" stroke-width="4.600"/><path d="M742.6 1017.4 L762.6 1007.9 L762.6 1027.8 Z" fill="#1b6a99"/><path d="M773.6 1102.6C772.2 1101.6 770.2 1098.3 765.6 1096.7C760.9 1095 754.9 1093.8 745.6 1092.7C736.3 1091.6 715.7 1090.5 709.7 1090.1" fill="none" stroke="#1b6a99" stroke-width="4.600"/><path d="M689.1 1082.1 L711.7 1081.3 L702.7 1099.6 Z" fill="#1b6a99"/><path d="M712.7 1191.4C713 1188.5 713.2 1178.3 714.7 1173.5C716.2 1168.7 719.5 1165 721.7 1162.5C723.8 1160 726.7 1159.2 727.7 1158.5" fill="none" stroke="#1b6a99" stroke-width="4.600"/><path d="M736.6 1151.5 L713.7 1156.5 L727.7 1171.5 Z" fill="#1b6a99"/><path d="M668.9 1251.9C665.1 1250.8 652.6 1249.3 646.1 1245.6C639.6 1241.8 633.8 1235.9 629.9 1229.4C626.1 1222.9 624.1 1210.4 622.9 1206.6" fill="none" stroke="#1b6a99" stroke-width="4.600"/><path d="M619.1 1189.1 L611.8 1210.4 L631.8 1205.6 Z" fill="#1b6a99"/><path d="M891.5 1311.2C885.5 1310.7 865.8 1310.9 855.3 1308.3C844.9 1305.8 834.3 1300.9 828.7 1296C823.2 1291.1 825.5 1284.4 822 1278.9C818.6 1273.3 815.2 1267.1 807.8 1262.7C800.3 1258.3 782.4 1254.3 777.3 1252.6" fill="none" stroke="#1b6a99" stroke-width="4.600"/><path d="M757.4 1251.3 L778.3 1242.7 L776.4 1262.7 Z" fill="#1b6a99"/><path d="M925.7 1269.4C924.4 1266.5 923.5 1257.1 918.1 1252.2C912.7 1247.3 903.8 1243 893.4 1239.9C882.9 1236.8 868 1235.3 855.3 1233.6C842.7 1231.8 828.7 1232.5 817.3 1229.4C805.9 1226.3 791.9 1217.5 786.9 1215.1" fill="none" stroke="#1b6a99" stroke-width="4.600"/><path d="M773.9 1198.0 L776.4 1219.9 L792.6 1208.5 Z" fill="#1b6a99"/><path d="M960 1311.2C966.3 1310.2 987.7 1309.6 998 1305.5C1008.3 1301.4 1017.7 1293.4 1021.8 1286.5C1025.9 1279.5 1025.1 1271.3 1022.7 1263.6C1020.4 1256 1016.4 1246.7 1007.5 1240.8C998.6 1235 983.7 1231.3 969.5 1228.5C955.2 1225.6 934.6 1225.9 921.9 1223.7C909.2 1221.5 901.9 1219.4 893.4 1215.1C884.8 1210.9 874.4 1200.9 870.6 1198" fill="none" stroke="#1b6a99" stroke-width="4.600"/><path d="M856.9 1182.8 L857.6 1204.7 L875.3 1195.2 Z" fill="#1b6a99"/>
<g transform="translate(570,940) scale(0.199560)" fill="none" stroke="#000" stroke-width="17" stroke-linecap="round" stroke-linejoin="round">
<path d="M470 250C492.5 243.7 533.3 263.7 560 262C586.7 260.3 613 252 630 240C647 228 654 206.7 662 190C670 173.3 671.7 150.8 678 140C684.3 129.2 692.2 123.3 700 125C707.8 126.7 717 137.5 725 150C733 162.5 737.2 188 748 200C758.8 212 780.5 212.8 790 222C799.5 231.2 805 243.7 805 255C805 266.3 800.8 280.8 790 290C779.2 299.2 753.7 302.5 740 310C726.3 317.5 715.5 322.5 708 335C700.5 347.5 696.3 365.8 695 385C693.7 404.2 702.2 427.5 700 450C697.8 472.5 689 501.7 682 520C675 538.3 658.3 548.7 658 560C657.7 571.3 681.3 579.3 680 588C678.7 596.7 661.3 610.8 650 612C638.7 613.2 628.7 590.3 612 595C595.3 599.7 572 630.8 550 640C528 649.2 501.7 654.2 480 650C458.3 645.8 435.8 633.3 420 615C404.2 596.7 391.3 567.5 385 540C378.7 512.5 379.2 478.3 382 450C384.8 421.7 394.8 395 402 370C409.2 345 413.7 320 425 300C436.3 280 447.5 256.3 470 250Z"/>
<path d="M445 390 Q540 440 592 570" stroke-width="10"/>
<path d="M545 330 Q580 350 582 385 M600 338 Q632 355 637 385 M580 425 Q612 440 618 468" stroke-width="10"/>
<circle cx="463" cy="545" r="22" fill="#000" stroke="none"/>
<path d="M440 290 Q470 262 505 258" stroke-width="8"/>
</g>
<g transform="translate(570,940) scale(0.199560)" fill="none" stroke="#000" stroke-width="20" stroke-linecap="round" stroke-linejoin="round">
<path d="M185 1160 Q120 1080 100 1030 Q70 960 130 935 Q125 885 190 890 Q200 840 240 845 Q280 838 292 890 Q350 880 350 935 Q405 955 378 1030 Q350 1100 300 1158"/>
<rect x="170" y="1158" width="142" height="58" rx="22"/>
<path d="M205 1150 Q140 1040 135 940 M228 1150 Q195 1000 200 895 M258 1150 Q285 1000 285 895 M282 1150 Q335 1050 345 940" stroke-width="11"/>
</g>
<g transform="translate(570,940) scale(0.199560)" stroke="#000" stroke-width="9" stroke-linejoin="round" stroke-linecap="round">
<path d="M1060 855 Q1075 880 1110 875 Q1165 875 1168 945 M1160 1040 Q1185 1090 1130 1125 Q1085 1135 1100 1175" fill="none" stroke-width="9"/>
<path d="M930 960 H1130 L1210 958 V975 H1150 V990 H1195 V1005 H1140 V1018 H1170 V1030 H1120 L1100 1070 H930 Q900 1080 885 1120 Q880 1180 945 1205 L940 1222 Q850 1195 838 1110 Q830 1000 930 960Z" fill="#f2561d"/>
<path d="M930 960 Q850 1000 845 1080 Q850 1180 940 1215 Q880 1160 885 1110 Q895 1070 935 1065 L925 1010Z" fill="#f89c1c" stroke="none"/>
<path d="M930 962 V1068 M985 962 V1068 M1040 962 V1068 M1090 962 V1068 M900 1000 L925 1040 M860 1060 L895 1080 M850 1120 L885 1125 M865 1170 L895 1150" fill="none" stroke-width="7"/>
<path d="M945 1000 H975 M1000 1015 H1030 M1055 1000 H1080 M960 1035 H980" fill="none" stroke-width="8"/>
<path d="M940 1205 L975 1168 H1018 L1000 1210 L1018 1252 H975Z" fill="#f2561d"/>
<path d="M960 1210 H1000" fill="none"/>
<rect x="1075" y="985" width="22" height="22" fill="#000"/>
</g>
<g transform="translate(570,940) scale(0.199560)" stroke="#5a3a1a" stroke-width="6" stroke-linejoin="round" stroke-linecap="round">
<path d="M1568 820 L1566 730 M1585 825 L1595 730" fill="none" stroke="#333" stroke-width="5"/>
<path d="M1285 985 Q1275 1010 1320 1015 H1500 Q1550 1005 1565 960 L1580 890 Q1605 850 1590 825 Q1560 805 1540 840 Q1520 920 1500 950 Q1450 990 1285 985Z" fill="#fbe23c"/>
<circle cx="1572" cy="845" r="7" fill="#333" stroke="none"/>
<ellipse cx="1415" cy="880" rx="103" ry="108" fill="#e8762c"/>
<path d="M1340 960 Q1310 850 1400 800 Q1490 790 1490 880 Q1480 950 1410 950 Q1350 930 1375 870 Q1400 830 1440 860 Q1460 900 1420 915 Q1390 900 1415 880" fill="none" stroke="#3a2a2a" stroke-width="7"/>
</g>
<g id="worm" fill="none" stroke-linecap="round" stroke="#000"><path d="M731.4 1221.8 L725.8 1224.7M735.9 1217.9 L739.6 1212.7M734.8 1226.6 L728.5 1227.5M740.4 1224.3 L745.5 1220.6M735.7 1232.4 L729.5 1231.1M741.7 1232.3 L747.9 1230.6M735.4 1238.9 L729.5 1236.5M741.3 1239.9 L747.7 1239.4M733.6 1244.6 L728.8 1240.4M739.0 1247.3 L745.2 1248.8M730.4 1248.9 L727.7 1243.1M734.1 1253.6 L739.1 1257.6M725.9 1250.6 L727.2 1244.3M726.1 1256.6 L727.8 1262.7M721.1 1249.0 L725.7 1244.5M718.0 1254.1 L715.9 1260.1M716.4 1244.9 L721.7 1241.3M712.4 1249.3 L709.3 1254.8M711.3 1240.1 L716.5 1236.4M707.3 1244.6 L704.4 1250.3M704.3 1236.1 L707.7 1230.7M702.3 1241.8 L701.8 1248.2M695.7 1236.3 L694.6 1230.0M698.0 1241.8 L701.8 1246.9M689.2 1241.8 L684.8 1237.3M694.4 1245.0 L700.4 1246.9M686.3 1249.2 L680.7 1246.2M692.1 1250.7 L698.5 1250.8M685.1 1256.2 L679.1 1253.9M691.0 1257.0 L697.3 1256.3M684.4 1263.4 L678.3 1261.6M690.4 1263.7 L696.7 1262.4M684.2 1270.1 L678.1 1268.4M690.2 1270.3 L696.5 1269.1" stroke-width="2.100"/><path d="M730.9 1216.7 L731.1 1216.9 L731.3 1217.2 L731.6 1217.5 L731.9 1217.8 L732.2 1218.2 L732.6 1218.6 L732.9 1219.0 L733.3 1219.4 L733.7 1219.8 L734.1 1220.3 L734.5 1220.8 L734.9 1221.2 L735.2 1221.7 L735.6 1222.2 L736.0 1222.7 L736.3 1223.2 L736.6 1223.6 L736.9 1224.1 L737.2 1224.6 L737.4 1225.0 L737.6 1225.4 L737.7 1225.9 L737.9 1226.3 L738.0 1226.8 L738.2 1227.2 L738.3 1227.7 L738.4 1228.2 L738.4 1228.6 L738.5 1229.1 L738.6 1229.6 L738.6 1230.0 L738.7 1230.5 L738.7 1231.0 L738.7 1231.4 L738.7 1231.9 L738.7 1232.4 L738.8 1232.8 L738.8 1233.3 L738.8 1233.8 L738.8 1234.2 L738.8 1234.7 L738.8 1235.1 L738.7 1235.6 L738.7 1236.1 L738.7 1236.6 L738.7 1237.0 L738.6 1237.5 L738.6 1238.0 L738.5 1238.5 L738.4 1238.9 L738.4 1239.4 L738.3 1239.9 L738.2 1240.3 L738.1 1240.8 L738.0 1241.3 L737.9 1241.7 L737.8 1242.1 L737.7 1242.6 L737.5 1243.0 L737.4 1243.4 L737.2 1243.8 L737.1 1244.3 L736.9 1244.7 L736.7 1245.1 L736.5 1245.5 L736.3 1245.9 L736.1 1246.3 L735.9 1246.7 L735.6 1247.1 L735.4 1247.5 L735.2 1247.9 L734.9 1248.3 L734.7 1248.6 L734.4 1249.0 L734.1 1249.3 L733.9 1249.7 L733.6 1250.0 L733.3 1250.3 L733.1 1250.5 L732.8 1250.8 L732.5 1251.0 L732.2 1251.3 L731.9 1251.5 L731.6 1251.7 L731.3 1251.9 L731.0 1252.1 L730.7 1252.3 L730.3 1252.5 L730.0 1252.6 L729.7 1252.8 L729.3 1252.9 L729.0 1253.0 L728.7 1253.1 L728.3 1253.2 L728.0 1253.3 L727.6 1253.4 L727.3 1253.4 L727.0 1253.5 L726.7 1253.5 L726.3 1253.6 L726.0 1253.6 L725.7 1253.6 L725.4 1253.6 L725.0 1253.6 L724.7 1253.5 L724.4 1253.5 L724.1 1253.4 L723.7 1253.3 L723.4 1253.3 L723.1 1253.2 L722.8 1253.1 L722.5 1252.9 L722.1 1252.8 L721.8 1252.7 L721.5 1252.6 L721.2 1252.4 L720.8 1252.2 L720.5 1252.1 L720.2 1251.9 L719.9 1251.7 L719.6 1251.5 L719.2 1251.3 L718.9 1251.1 L718.6 1250.9 L718.3 1250.6 L717.9 1250.3 L717.6 1250.1 L717.3 1249.8 L717.0 1249.5 L716.7 1249.2 L716.3 1248.9 L716.0 1248.6 L715.7 1248.3 L715.4 1248.0 L715.0 1247.7 L714.7 1247.4 L714.4 1247.1 L714.1 1246.8 L713.8 1246.5 L713.4 1246.2 L713.1 1245.9 L712.8 1245.6 L712.5 1245.3 L712.2 1245.0 L711.8 1244.7 L711.5 1244.4 L711.2 1244.1 L710.9 1243.8 L710.6 1243.5 L710.3 1243.2 L709.9 1242.9 L709.6 1242.6 L709.3 1242.4 L709.0 1242.1 L708.7 1241.8 L708.3 1241.6 L708.0 1241.3 L707.7 1241.1 L707.3 1240.9 L707.0 1240.7 L706.6 1240.5 L706.3 1240.3 L705.9 1240.1 L705.6 1239.9 L705.2 1239.7 L704.8 1239.6 L704.4 1239.4 L704.1 1239.2 L703.7 1239.1 L703.3 1239.0 L702.9 1238.8 L702.5 1238.7 L702.2 1238.6 L701.8 1238.5 L701.4 1238.5 L701.0 1238.4 L700.7 1238.4 L700.3 1238.4 L700.0 1238.4 L699.6 1238.4 L699.3 1238.4 L698.9 1238.4 L698.6 1238.5 L698.2 1238.6 L697.9 1238.7 L697.5 1238.8 L697.2 1238.9 L696.8 1239.1 L696.5 1239.2 L696.2 1239.4 L695.8 1239.5 L695.5 1239.7 L695.2 1239.9 L694.9 1240.1 L694.6 1240.4 L694.3 1240.6 L694.0 1240.8 L693.7 1241.1 L693.4 1241.3 L693.2 1241.6 L692.9 1241.9 L692.7 1242.1 L692.4 1242.4 L692.2 1242.7 L692.0 1243.1 L691.8 1243.4 L691.6 1243.7 L691.4 1244.1 L691.2 1244.4 L691.0 1244.8 L690.9 1245.2 L690.7 1245.5 L690.5 1245.9 L690.4 1246.3 L690.2 1246.8 L690.1 1247.2 L689.9 1247.6 L689.8 1248.1 L689.6 1248.5 L689.5 1249.0 L689.3 1249.4 L689.2 1249.9 L689.1 1250.4 L689.0 1250.9 L688.9 1251.5 L688.7 1252.0 L688.6 1252.6 L688.5 1253.1 L688.4 1253.7 L688.4 1254.3 L688.3 1254.8 L688.2 1255.4 L688.1 1256.0 L688.0 1256.6 L688.0 1257.2 L687.9 1257.7 L687.8 1258.3 L687.8 1258.9 L687.7 1259.5 L687.6 1260.0 L687.6 1260.6 L687.5 1261.1 L687.5 1261.7 L687.5 1262.3 L687.4 1262.9 L687.4 1263.5 L687.4 1264.1 L687.4 1264.7 L687.3 1265.3 L687.3 1265.9 L687.3 1266.5 L687.3 1267.1 L687.3 1267.7 L687.3 1268.2 L687.3 1268.8 L687.2 1269.3 L687.2 1269.8 L687.2 1270.2 L687.2 1270.7 L687.2 1271.1 L687.2 1271.4 L687.1 1271.8 L687.1 1272.2 L687.1 1272.5 L687.1 1272.8 L687.0 1273.1 L687.0 1273.3 L687.0 1273.6 L686.9 1273.8 L686.9 1274.1 L686.9 1274.3 L686.9 1274.5 L686.8 1274.7 L686.8 1274.8 L686.8 1275.0 L686.8 1275.2 L686.8 1275.3 L686.7 1275.4 L686.7 1275.6 L686.7 1275.7" stroke-width="7.800"/><path d="M730.9 1216.7 L731.1 1216.9 L731.3 1217.2 L731.6 1217.5 L731.9 1217.8 L732.2 1218.2 L732.6 1218.6 L732.9 1219.0 L733.3 1219.4 L733.7 1219.8 L734.1 1220.3 L734.5 1220.8 L734.9 1221.2 L735.2 1221.7 L735.6 1222.2 L736.0 1222.7 L736.3 1223.2 L736.6 1223.6 L736.9 1224.1 L737.2 1224.6 L737.4 1225.0 L737.6 1225.4 L737.7 1225.9 L737.9 1226.3 L738.0 1226.8 L738.2 1227.2 L738.3 1227.7 L738.4 1228.2 L738.4 1228.6 L738.5 1229.1 L738.6 1229.6 L738.6 1230.0 L738.7 1230.5 L738.7 1231.0 L738.7 1231.4 L738.7 1231.9 L738.7 1232.4 L738.8 1232.8 L738.8 1233.3 L738.8 1233.8 L738.8 1234.2 L738.8 1234.7 L738.8 1235.1 L738.7 1235.6 L738.7 1236.1 L738.7 1236.6 L738.7 1237.0 L738.6 1237.5 L738.6 1238.0 L738.5 1238.5 L738.4 1238.9 L738.4 1239.4 L738.3 1239.9 L738.2 1240.3 L738.1 1240.8 L738.0 1241.3 L737.9 1241.7 L737.8 1242.1 L737.7 1242.6 L737.5 1243.0 L737.4 1243.4 L737.2 1243.8 L737.1 1244.3 L736.9 1244.7 L736.7 1245.1 L736.5 1245.5 L736.3 1245.9 L736.1 1246.3 L735.9 1246.7 L735.6 1247.1 L735.4 1247.5 L735.2 1247.9 L734.9 1248.3 L734.7 1248.6 L734.4 1249.0 L734.1 1249.3 L733.9 1249.7 L733.6 1250.0 L733.3 1250.3 L733.1 1250.5 L732.8 1250.8 L732.5 1251.0 L732.2 1251.3 L731.9 1251.5 L731.6 1251.7 L731.3 1251.9 L731.0 1252.1 L730.7 1252.3 L730.3 1252.5 L730.0 1252.6 L729.7 1252.8 L729.3 1252.9 L729.0 1253.0 L728.7 1253.1 L728.3 1253.2 L728.0 1253.3 L727.6 1253.4 L727.3 1253.4 L727.0 1253.5 L726.7 1253.5 L726.3 1253.6 L726.0 1253.6 L725.7 1253.6 L725.4 1253.6 L725.0 1253.6 L724.7 1253.5 L724.4 1253.5 L724.1 1253.4 L723.7 1253.3 L723.4 1253.3 L723.1 1253.2 L722.8 1253.1 L722.5 1252.9 L722.1 1252.8 L721.8 1252.7 L721.5 1252.6 L721.2 1252.4 L720.8 1252.2 L720.5 1252.1 L720.2 1251.9 L719.9 1251.7 L719.6 1251.5 L719.2 1251.3 L718.9 1251.1 L718.6 1250.9 L718.3 1250.6 L717.9 1250.3 L717.6 1250.1 L717.3 1249.8 L717.0 1249.5 L716.7 1249.2 L716.3 1248.9 L716.0 1248.6 L715.7 1248.3 L715.4 1248.0 L715.0 1247.7 L714.7 1247.4 L714.4 1247.1 L714.1 1246.8 L713.8 1246.5 L713.4 1246.2 L713.1 1245.9 L712.8 1245.6 L712.5 1245.3 L712.2 1245.0 L711.8 1244.7 L711.5 1244.4 L711.2 1244.1 L710.9 1243.8 L710.6 1243.5 L710.3 1243.2 L709.9 1242.9 L709.6 1242.6 L709.3 1242.4 L709.0 1242.1 L708.7 1241.8 L708.3 1241.6 L708.0 1241.3 L707.7 1241.1 L707.3 1240.9 L707.0 1240.7 L706.6 1240.5 L706.3 1240.3 L705.9 1240.1 L705.6 1239.9 L705.2 1239.7 L704.8 1239.6 L704.4 1239.4 L704.1 1239.2 L703.7 1239.1 L703.3 1239.0 L702.9 1238.8 L702.5 1238.7 L702.2 1238.6 L701.8 1238.5 L701.4 1238.5 L701.0 1238.4 L700.7 1238.4 L700.3 1238.4 L700.0 1238.4 L699.6 1238.4 L699.3 1238.4 L698.9 1238.4 L698.6 1238.5 L698.2 1238.6 L697.9 1238.7 L697.5 1238.8 L697.2 1238.9 L696.8 1239.1 L696.5 1239.2 L696.2 1239.4 L695.8 1239.5 L695.5 1239.7 L695.2 1239.9 L694.9 1240.1 L694.6 1240.4 L694.3 1240.6 L694.0 1240.8 L693.7 1241.1 L693.4 1241.3 L693.2 1241.6 L692.9 1241.9 L692.7 1242.1 L692.4 1242.4 L692.2 1242.7 L692.0 1243.1 L691.8 1243.4 L691.6 1243.7 L691.4 1244.1 L691.2 1244.4 L691.0 1244.8 L690.9 1245.2 L690.7 1245.5 L690.5 1245.9 L690.4 1246.3 L690.2 1246.8 L690.1 1247.2 L689.9 1247.6 L689.8 1248.1 L689.6 1248.5 L689.5 1249.0 L689.3 1249.4 L689.2 1249.9 L689.1 1250.4 L689.0 1250.9 L688.9 1251.5 L688.7 1252.0 L688.6 1252.6 L688.5 1253.1 L688.4 1253.7 L688.4 1254.3 L688.3 1254.8 L688.2 1255.4 L688.1 1256.0 L688.0 1256.6 L688.0 1257.2 L687.9 1257.7 L687.8 1258.3 L687.8 1258.9 L687.7 1259.5 L687.6 1260.0 L687.6 1260.6 L687.5 1261.1 L687.5 1261.7 L687.5 1262.3 L687.4 1262.9 L687.4 1263.5 L687.4 1264.1 L687.4 1264.7 L687.3 1265.3 L687.3 1265.9 L687.3 1266.5 L687.3 1267.1 L687.3 1267.7 L687.3 1268.2 L687.3 1268.8 L687.2 1269.3 L687.2 1269.8 L687.2 1270.2 L687.2 1270.7 L687.2 1271.1 L687.2 1271.4 L687.1 1271.8 L687.1 1272.2 L687.1 1272.5 L687.1 1272.8 L687.0 1273.1 L687.0 1273.3 L687.0 1273.6 L686.9 1273.8 L686.9 1274.1 L686.9 1274.3 L686.9 1274.5 L686.8 1274.7 L686.8 1274.8 L686.8 1275.0 L686.8 1275.2 L686.8 1275.3 L686.7 1275.4 L686.7 1275.6 L686.7 1275.7" stroke="#fbecb5" stroke-width="3.600"/><path d="M716.2 1203.4 L728.2 1214.9 M709.3 1212.1 L724.5 1217.6 M686.7 1275.7C685.9 1277.5 683.5 1283.2 682.1 1286.7C680.7 1290.3 679 1295.2 678.4 1296.9M686.7 1275.7C687 1277.5 688.4 1283 688.6 1286.7C688.7 1290.4 687.8 1295.9 687.6 1297.8 M683.5 1282.1 L676.6 1277.5M681.2 1289.5 L677.5 1285.8M687.6 1282.1 L696.8 1284.0M688.4 1290.4 L691.3 1289.5M684.9 1278.4 L677.5 1271.1M688.6 1276.6 L695.9 1278.4" stroke-width="2.300"/></g>
<!--FOODWEB-->
<defs><g id="sedi" fill="#000"><ellipse cx="12" cy="43" rx="11" ry="11"/><ellipse cx="195" cy="30" rx="22" ry="26"/><ellipse cx="423" cy="17" rx="12" ry="12"/><ellipse cx="97" cy="71" rx="11" ry="11"/><ellipse cx="292" cy="71" rx="11" ry="11"/><ellipse cx="205" cy="98" rx="11" ry="11"/><ellipse cx="378" cy="97" rx="11" ry="11"/><ellipse cx="444" cy="97" rx="11" ry="11"/><ellipse cx="135" cy="158" rx="38" ry="45"/><ellipse cx="248" cy="151" rx="11" ry="13"/><ellipse cx="325" cy="137" rx="21" ry="27"/><ellipse cx="32" cy="179" rx="11" ry="11"/><ellipse cx="400" cy="179" rx="11" ry="11"/><ellipse cx="498" cy="191" rx="22" ry="27"/><ellipse cx="238" cy="217" rx="22" ry="26"/><ellipse cx="97" cy="232" rx="11" ry="11"/><ellipse cx="315" cy="258" rx="11" ry="11"/><ellipse cx="390" cy="270" rx="33" ry="40"/><ellipse cx="65" cy="298" rx="21" ry="25"/><ellipse cx="185" cy="285" rx="11" ry="11"/><ellipse cx="488" cy="312" rx="11" ry="11"/><ellipse cx="118" cy="338" rx="11" ry="11"/><ellipse cx="227" cy="338" rx="11" ry="11"/><ellipse cx="280" cy="351" rx="22" ry="26"/><ellipse cx="444" cy="338" rx="11" ry="11"/><ellipse cx="55" cy="391" rx="11" ry="11"/><ellipse cx="150" cy="405" rx="21" ry="26"/><ellipse cx="248" cy="417" rx="11" ry="11"/><ellipse cx="336" cy="391" rx="10" ry="14"/><ellipse cx="410" cy="405" rx="21" ry="26"/><rect x="0" y="490" width="520" height="35"/></g></defs>
<use href="#sedi" transform="translate(121.100,1243.300) scale(0.23294)"/>
<use href="#sedi" transform="translate(1268.900,1237.200) scale(0.23294)"/>
<use href="#sedi" transform="translate(891.500,1278.400) scale(0.13,0.1216)"/>
<!--SEDIMENTICONS-->
<g id="complex" transform="translate(1328.2,787.5) scale(0.153490)" fill="#000"><path id="hd" d="M-146 -500 Q-146 -525 -121 -525 H121 Q146 -525 146 -500 C146 -425 70 -385 0 -385 C-70 -385 -146 -425 -146 -500Z"/><use href="#hd" transform="rotate(45)"/><use href="#hd" transform="rotate(90)"/><use href="#hd" transform="rotate(135)"/><use href="#hd" transform="rotate(180)"/><use href="#hd" transform="rotate(225)"/><use href="#hd" transform="rotate(270)"/><use href="#hd" transform="rotate(315)"/><circle cx="0" cy="-268" r="38"/><circle cx="182" cy="-192" r="38"/><circle cx="258" cy="-10" r="38"/><circle cx="182" cy="172" r="38"/><circle cx="0" cy="248" r="38"/><circle cx="-182" cy="172" r="38"/><circle cx="-258" cy="-10" r="38"/><circle cx="-182" cy="-192" r="38"/></g>
<!--COMPLEX-->
<g id="micro" transform="translate(1560,570) scale(0.322580)" fill="#241612"><ellipse cx="213" cy="75" rx="22" ry="26"/><ellipse cx="290" cy="108" rx="22" ry="26"/><ellipse cx="360" cy="108" rx="22" ry="26"/><ellipse cx="240" cy="172" rx="22" ry="26"/><ellipse cx="318" cy="202" rx="22" ry="26"/><ellipse cx="386" cy="192" rx="22" ry="26"/><ellipse cx="186" cy="258" rx="22" ry="26"/><ellipse cx="268" cy="258" rx="22" ry="26"/><ellipse cx="360" cy="268" rx="22" ry="26"/></g>
<path d="M1629.400 776.300 H1674.400 V790.800 H1629.400Z M1644.600 761 H1659.200 V806 H1644.600Z" fill="#ff1a1a"/>
<!--MICRO-->
<g id="chem" transform="translate(1560,570) scale(0.322580)" fill="none" stroke="#000" stroke-width="11.500" stroke-linecap="round" stroke-linejoin="round">
<ellipse cx="162" cy="838" rx="22" ry="27"/><ellipse cx="402" cy="835" rx="22" ry="27"/><ellipse cx="438" cy="1085" rx="22" ry="27"/><ellipse cx="322" cy="1172" rx="22" ry="27"/><ellipse cx="160" cy="1172" rx="22" ry="27"/>
<path d="M200 915 H285 L325 998 L285 1085 H205 L162 1000Z"/>
<path d="M207 943 L186 996 M218 1055 H268 M266 945 L293 1000"/>
<path d="M200 915 L176 865 M205 1085 L175 1146"/>
<path d="M285 915 L325 835 H378 M304 922 L338 852"/>
<path d="M418 865 L440 915 L400 998 H325 M385 968 H332 M418 922 L395 972"/>
<path d="M332 1032 L306 1085"/>
<path d="M400 998 L425 1056 M425 1115 L400 1165 H350 M285 1085 L308 1146"/>
</g>
<!--CHEM-->
<g id="tourism" transform="translate(1250,230) scale(0.135870)">
<ellipse cx="1785" cy="662" rx="645" ry="510" fill="#fbe9b0"/>
<g id="yacht" stroke="#000" stroke-linejoin="round">
<path d="M135 828 L1095 832 L1160 940 L1205 950 L1200 968 L1150 975 L290 975 L135 852Z" fill="#fff" stroke-width="10"/>
<path d="M290 982 H1150" stroke-width="18"/>
<path d="M150 810 L480 795 L1080 830" fill="none" stroke-width="7"/>
<path d="M160 812 V828 M220 808 V828 M280 805 V828 M340 802 V828 M400 800 V828 M450 797 V828" stroke-width="6"/>
<path d="M490 800 Q560 750 700 742 Q880 745 960 800 L1000 828 L500 828Z" fill="#fff" stroke-width="9"/>
<path d="M530 798 Q590 765 700 760 Q850 762 900 800Z" fill="#fff" stroke-width="8"/>
<path d="M640 765 V800 M720 760 V800 M770 760 V800 M800 762 V800 M830 768 V800" stroke-width="8"/>
<path d="M680 725 Q760 690 900 700 L1010 760 L700 742Z" fill="#fff" stroke-width="8"/>
<path d="M690 722 Q760 690 850 700 L870 722Z" fill="#111" stroke-width="4"/>
<path d="M900 715 Q960 700 990 740 L930 738Z" fill="#111" stroke-width="4"/>
<path d="M760 690 Q850 680 930 690" fill="none" stroke-width="7"/>
<path d="M860 712 L815 640 L835 560 M815 640 L760 650 L790 600 L830 580 M820 645 L880 640 L850 660" fill="none" stroke-width="9"/>
<path d="M280 850 Q700 842 1080 868" fill="none" stroke-width="5"/>
<path d="M880 885 Q1000 868 1090 875" fill="none" stroke-width="7"/>
<path d="M960 958 Q1080 940 1195 955" fill="none" stroke-width="7"/>
<g fill="#000" stroke="none"><circle cx="330" cy="878" r="9"/><circle cx="425" cy="893" r="8"/><circle cx="462" cy="896" r="8"/><circle cx="520" cy="897" r="8"/><circle cx="560" cy="899" r="8"/><circle cx="628" cy="901" r="8"/>
<rect x="745" y="902" width="14" height="38"/><rect x="766" y="902" width="14" height="38"/><rect x="787" y="902" width="14" height="38"/>
<path d="M282 885 Q275 925 310 930 L300 905Z"/></g>
</g>
<g id="beach" stroke="#a81d1d" stroke-width="9" stroke-linejoin="round" stroke-linecap="round">
<!-- shadow -->
<g fill="#c9b2b8" stroke="none"><path d="M1330 675 H1420 L1500 935 H1420Z"/><path d="M1640 390 L1870 140 L1900 140 L1680 420Z"/><path d="M1430 445 L1495 440 L1500 370 L1530 440 L1480 520Z"/><rect x="1538" y="930" width="22" height="85"/><rect x="1955" y="930" width="20" height="85"/><path d="M1920 560 L2060 470 L2070 490 L1940 600Z"/></g>
<!-- umbrella pole -->
<path d="M1907 440 V625" fill="none"/>
<path d="M1858 440 V600" stroke="#d8c0b0" stroke-width="7" fill="none"/>
<path d="M1905 135 L1672 398 L1740 398 Z" fill="#ffb766"/><path d="M1905 135 L1740 398 L1809 398 Z" fill="#ffffff"/><path d="M1905 135 L1809 398 L1877 398 Z" fill="#c4e4f7"/><path d="M1905 135 L1877 398 L1945 398 Z" fill="#ffb766"/><path d="M1905 135 L1945 398 L2013 398 Z" fill="#ffffff"/><path d="M1905 135 L2013 398 L2082 398 Z" fill="#c4e4f7"/><path d="M1905 135 L2082 398 L2150 398 Z" fill="#ffb766"/>
<path stroke="none" d="M1672 398 V410 A34 31 0 0 0 1740 410 V398 Z" fill="#fff"/><path stroke="none" d="M1740 398 V410 A34 31 0 0 0 1809 410 V398 Z" fill="#ffb766"/><path stroke="none" d="M1809 398 V410 A34 31 0 0 0 1877 410 V398 Z" fill="#fff"/><path stroke="none" d="M1877 398 V410 A34 31 0 0 0 1945 410 V398 Z" fill="#ffb766"/><path stroke="none" d="M1945 398 V410 A34 31 0 0 0 2013 410 V398 Z" fill="#fff"/><path stroke="none" d="M2013 398 V410 A34 31 0 0 0 2082 410 V398 Z" fill="#ffb766"/><path stroke="none" d="M2082 398 V410 A34 31 0 0 0 2150 410 V398 Z" fill="#fff"/>
<path d="M1905 135 L1672 398 H2150Z" fill="none"/>
<path d="M1905 140 L1740 398 M1905 140 L1808 398 M1905 140 L1876 398 M1905 140 L1945 398 M1905 140 L2013 398 M1905 140 L2082 398" fill="none" stroke-width="7"/>

<path d="M1672 404 a34 32 0 0 0 68 0 a34 30 0 0 0 68 0 a34 30 0 0 0 68 0 a34 30 0 0 0 68 0 a34 30 0 0 0 68 0 a34 30 0 0 0 68 0 a34 30 0 0 0 68 0" fill="none" stroke-width="8"/>
<path d="M1860 185 L1905 128 L1950 185Z" fill="#a81d1d"/>
<!-- star -->
<polygon points="1556,357 1570,419 1634,425 1579,458 1593,520 1545,479 1490,511 1515,453 1467,411 1530,416" fill="#ffe761" stroke-width="8"/>
<!-- rail behind -->
<path d="M1490 625 V590 Q1490 545 1540 545 H1830 Q1885 545 1885 600 V625" fill="none"/>
<!-- backrest -->
<path d="M1925 600 L2060 470 L2190 650 Q2080 730 2035 880 Z" fill="#bfe0f6"/>
<path d="M2060 470 L2085 500 L2190 650 L2140 688 L2030 500Z" fill="#fff" stroke="none"/>
<path d="M1925 600 L1990 540 Q1955 640 2010 800 L2035 880Z" fill="#4ec6ee" stroke="none"/>
<path d="M1925 600 L2060 470 L2190 650 Q2080 730 2035 880" fill="none"/>
<!-- seat -->
<path d="M1420 625 H1900 Q1925 625 1935 650 L2030 880 Q2040 915 2000 915 H1520 Q1485 915 1475 885 L1400 660 Q1392 625 1420 625Z" fill="#fff"/>
<path d="M1440 665 H1890 L1975 885 H1525Z" fill="#bfe0f6" stroke="none"/>
<path d="M1418 662 H1478 L1545 900 H1500Z" fill="#4ec6ee" stroke="none"/>
<!-- shell -->
<path d="M1570 760 Q1585 700 1670 695 Q1755 700 1772 760 Q1770 785 1720 790 L1735 815 H1610 L1622 790 Q1570 785 1570 760Z" fill="#fff" stroke="none"/>
<!-- front rail/legs -->
<path d="M1605 1005 V880 Q1605 830 1660 830 H1840" fill="none"/><path d="M1870 830 H1930 M1955 832 Q2000 840 2005 900 L2015 1000" fill="none"/>
<path d="M1690 840 H1960 L1985 905 H1615 Q1620 845 1690 840Z" fill="#bfe0f6" stroke="none" opacity="0.001"/>
</g>
</g>
<!--TOURISM-->
<g id="factory" transform="translate(1870,420) scale(0.207170)" fill="#333" stroke="#333" stroke-width="10" stroke-linejoin="round">
<path d="M393 275 Q393 250 415 250 Q439 250 439 275 L447 330 L458 440 L464 520 L480 580 V1165 H350 V580 L366 520 L373 440 L383 330Z" stroke-width="4"/>
<path d="M385 233 H450 M415 215 V255 M415 205 H510 V1165" fill="none"/>
<path d="M352 588 H478 M352 1118 H478" stroke="#777" stroke-width="4"/>
<rect x="898" y="135" width="54" height="1030" rx="27" stroke-width="4"/>
<path d="M895 122 H960 M925 105 V140 M925 95 H985 V1165 M960 160 V1165" fill="none" stroke-width="9"/>
<rect x="800" y="610" width="25" height="330" stroke-width="2"/>
<path d="M775 1165 V990 Q775 950 800 925 H825 Q850 950 850 990 V1165Z" stroke-width="3"/>
<path d="M645 498 Q745 505 788 565" fill="none" stroke-width="88" stroke-linecap="round"/>
<rect x="1040" y="768" width="48" height="400" rx="24" stroke-width="3"/>
<path d="M190 880 V1165 M255 880 V1165 M320 880 V1165 M190 945 H320 M190 1025 H320 M190 1095 H320" fill="none"/>
<path d="M545 815 V1165 M605 815 V1165 M665 815 V1165 M730 815 V1165 M545 875 H730 M545 950 H730 M545 1025 H730 M545 1095 H730" fill="none"/>
<g stroke="none"><circle cx="285" cy="925" r="14"/><circle cx="225" cy="1075" r="14"/><circle cx="572" cy="925" r="14"/><circle cx="697" cy="925" r="14"/><circle cx="635" cy="997" r="14"/><circle cx="697" cy="1072" r="14"/><circle cx="572" cy="1145" r="14"/>
<ellipse cx="655" cy="20" rx="20" ry="16"/><circle cx="200" cy="545" r="12"/><circle cx="145" cy="708" r="9"/><circle cx="1095" cy="470" r="12"/><circle cx="1190" cy="1138" r="5"/></g>
<path d="M70 1170 H1200" stroke-width="12" fill="none"/>
<path d="M122 1205 H412 M435 1205 H462 M485 1205 H1160" stroke-width="11" fill="none"/>
<path d="M75 1138 H130 V1072 H350 M1180 1138 H1145 V1072 H950 M320 1125 H350 M490 1125 H545 M730 1125 H775 M850 1125 H898 M950 1125 H1040 M480 1072 H545 M950 1072 H1040" fill="none"/>
</g>
<!--FACTORY-->
<g id="house" transform="translate(2120,420) scale(0.207300)">
<g fill="#6fd9d6"><rect x="490" y="130" width="40" height="165"/><rect x="405" y="92" width="175" height="50" rx="25"/><ellipse cx="628" cy="117" rx="29" ry="26"/><rect x="370" y="192" width="285" height="48" rx="24"/></g>
<rect x="485" y="315" width="55" height="120" fill="#c5f6f0"/>
<rect x="465" y="293" width="90" height="32" rx="12" fill="#12c2b4"/>
<path d="M115 560 L358 355 L602 560 V830 H115Z" fill="#c5f6f0"/>
<path d="M115 520 L358 320 L602 520 V575 L358 385 L115 580Z" fill="#a9e4e4"/>
<rect x="115" y="740" width="487" height="90" fill="#a4e9e6"/>
<path d="M88 530 L358 303 L632 535" fill="none" stroke="#12c2b4" stroke-width="52" stroke-linecap="round" stroke-linejoin="miter"/>
<rect x="165" y="572" width="80" height="113" fill="#fff" stroke="#f0645a" stroke-width="11"/>
<rect x="470" y="572" width="80" height="113" fill="#fff" stroke="#f0645a" stroke-width="11"/>
<rect x="301" y="570" width="113" height="220" fill="#fa665c" stroke="#e2584e" stroke-width="7"/>
<circle cx="338" cy="688" r="12" fill="#e2584e"/>
<rect x="262" y="788" width="195" height="42" fill="#12c2b4"/>
</g>
<!--HOUSE-->
<g id="car" transform="translate(2120,420) scale(0.207300)">
<path d="M225 985 H430 Q440 985 448 992 L505 1042 L605 1058 Q620 1062 624 1078 L632 1110 L637 1118 V1165 H140 V1120 L160 1118 L165 1055 Q190 1000 225 985Z" fill="#000"/>
<g fill="#d9f2d3"><path d="M232 1002 H268 L262 1048 H212 Q218 1015 232 1002Z"/><path d="M282 1002 H362 V1048 H275Z"/><path d="M378 1002 H428 L478 1048 H385Z"/>
<path d="M585 1068 L615 1078 L618 1092 L595 1088Z"/><rect x="275" y="1070" width="25" height="7"/><rect x="388" y="1070" width="25" height="7"/>
<rect x="150" y="1105" width="480" height="7"/></g>
<circle cx="235" cy="1152" r="62" fill="#d9f2d3"/><circle cx="553" cy="1152" r="62" fill="#d9f2d3"/>
<circle cx="235" cy="1155" r="50" fill="#000"/><circle cx="553" cy="1155" r="50" fill="#000"/>
<circle cx="235" cy="1155" r="23" fill="#fff"/><circle cx="553" cy="1155" r="23" fill="#fff"/>
</g>
<!--CAR-->
<g id="mountain" transform="translate(2320,390) scale(0.230260)" fill="none" stroke="#7dcffa" stroke-width="19" stroke-linejoin="round" stroke-linecap="round">
<circle cx="418" cy="160" r="56"/>
<circle cx="418" cy="160" r="111" stroke-width="25" stroke-dasharray="17 14.700" stroke-linecap="butt"/>
<path d="M265 878 L735 140 Q790 80 845 140 L1310 878"/>
<path d="M630 290 L695 395 L785 320 L885 355 L930 280"/>
<path d="M85 878 L375 420 Q430 350 490 420 L520 455"/>
<path d="M320 510 L350 530 L440 500 L485 520"/>
<path d="M1050 445 L1080 415 Q1140 350 1200 420 L1490 878"/>
<path d="M1110 535 L1175 515 L1255 555"/>
<path d="M85 878 H1490"/>
<path d="M870 920 H280 a35 35 0 0 0 0 70 H350 a25 25 0 0 1 0 50 H110 a30 30 0 0 0 0 60 H240 a30 30 0 0 1 0 60 H190 a31 31 0 0 0 0 62 H1320 a31 31 0 0 0 0 -62 H1280 a30 30 0 0 1 0 -60 H1460 a30 30 0 0 0 0 -60 H1200 a25 25 0 0 1 0 -50 H1260 a35 35 0 0 0 0 -70 H1000" />
<path d="M488 1000 q30 0 50 20 t45 10 q20 -30 45 -30 t50 25 q20 10 50 -25" stroke-width="16"/>
<path d="M358 1118 q30 5 50 25 t50 5 q20 -25 40 -28 t50 25 q20 5 45 -22" stroke-width="16"/>
<path d="M790 1100 q30 0 50 22 t45 8 q20 -28 45 -28 t50 25 q25 8 45 -15 t50 -8 t50 22 q20 5 30 -25" stroke-width="16"/>
<path d="M808 968 H1052 L1008 1010 H852Z M930 845 L872 960 H988Z M930 845 V960" stroke-width="17"/>
<circle cx="930" cy="850" r="10" fill="#7dcffa"/>
</g>
<!--MOUNTAIN-->
<g id="pipe" fill="#6b6b6b">
<rect x="2282" y="958.200" width="45" height="72.500" rx="3"/>
<path fill-rule="evenodd" d="M2324 951 H2338 Q2341 951 2341 954 V1035 Q2341 1038 2338 1038 H2324 Q2321 1038 2321 1035 V954 Q2321 951 2324 951Z M2326.300 958 V1031 H2335.500 V958Z"/>
<path d="M2340 965 C2358 966 2370 985 2376 1014 C2378.500 1030 2380 1045 2381 1059 L2346 1059 C2345.500 1050 2344 1042 2340 1034Z"/>
<path d="M2348.500 987.500 Q2357 993 2362.500 1003" stroke="#d9f2d3" stroke-width="4.200" stroke-linecap="round" fill="none"/>
<path d="M2367 1026 Q2369 1040 2369.300 1053" stroke="#d9f2d3" stroke-width="3.800" stroke-linecap="round" fill="none"/>
<path d="M2290.0 1058.5Q2296.9 1053.7 2303.8 1058.5Q2310.6 1063.3 2317.5 1058.5Q2324.4 1053.7 2331.2 1058.5Q2338.1 1063.3 2345.0 1058.5Q2351.9 1053.7 2358.8 1058.5Q2365.6 1063.3 2372.5 1058.5Q2379.4 1053.7 2386.2 1058.5Q2390.1 1063.3 2394.0 1058.5" stroke="#6b6b6b" stroke-width="5" fill="none" stroke-linecap="round"/>
<path d="M2290.0 1073.0Q2296.9 1068.2 2303.8 1073.0Q2310.6 1077.8 2317.5 1073.0Q2324.4 1068.2 2331.2 1073.0Q2338.1 1077.8 2345.0 1073.0Q2351.9 1068.2 2358.8 1073.0Q2365.6 1077.8 2372.5 1073.0Q2379.4 1068.2 2386.2 1073.0Q2390.1 1077.8 2394.0 1073.0" stroke="#6b6b6b" stroke-width="5" fill="none" stroke-linecap="round"/>
</g>
<use href="#pipe" transform="translate(4899.900,-58.600) scale(-1,1)"/>
<g transform="translate(2104.200,787.900) rotate(43.200)">
<path d="M0 -32.5 H208 V-63 L270 0 L208 63 V32.5 H0Z" fill="url(#gEmis)"/>
<text class="b r" x="120" y="17" text-anchor="middle">Emission</text>
</g>
<!--EMISSION-->
<circle cx="2245.9" cy="1107.1" r="19.8" fill="#ff0000"/>
<circle cx="2317.1" cy="1126.7" r="19.8" fill="#156082"/>
<circle cx="2222.9" cy="1167.0" r="19.8" fill="#ffff00"/>
<circle cx="2294.1" cy="1183.6" r="19.8" fill="#e97132"/>
<circle cx="2378.6" cy="1163.0" r="19.8" fill="#000000"/>
<circle cx="2488.1" cy="1127.7" r="19.8" fill="#e97132"/>
<circle cx="2192.0" cy="810.5" r="19.8" fill="#000000"/>
<circle cx="2230.4" cy="842.7" r="19.8" fill="#156082"/>
<circle cx="2272.7" cy="875.3" r="19.8" fill="#ff0000"/>
<circle cx="2414.1" cy="928.9" r="19.8" fill="#ff0000"/>
<circle cx="2516.7" cy="884.1" r="19.8" fill="#ffff00"/>

<g id="bottles" fill="none" stroke="#262626" stroke-width="4" stroke-linejoin="round">
<rect x="2409.500" y="835" width="13.500" height="8.500" rx="1.500"/>
<path d="M2409.500 844 C2404 848 2400.400 852 2400.400 859 V900 Q2400.400 904.500 2405 904.500 H2427.500 Q2432 904.500 2432 900 V859 C2432 852 2428.500 848 2423 844"/>
<path d="M2400.400 865 H2432" stroke-width="5.500"/><path d="M2400.400 886.400 H2432" stroke-width="5"/>
<rect x="2452.400" y="817" width="11" height="9" rx="1.500"/>
<path d="M2452.400 827 C2449 834 2444.300 838 2444.300 845 V905 Q2444.300 911.300 2450 911.300 H2465.500 Q2471 911.300 2471 905 V845 C2471 838 2467 834 2463.400 827"/>
<path d="M2446.300 847.700 H2469" stroke="#12b050" stroke-width="6"/><path d="M2446.300 869.800 H2469" stroke="#12b050" stroke-width="6"/>
</g>
<g id="cosm" transform="translate(1580,250) scale(0.084424)" fill="#1fc0b8" stroke="#1fc0b8" stroke-width="24" stroke-linejoin="round">
<rect x="227" y="452" width="333" height="736" rx="25" fill="none"/><rect x="227" y="452" width="228" height="736" rx="10"/>
<rect x="292" y="292" width="206" height="150" rx="20" fill="none"/><rect x="292" y="292" width="123" height="150" rx="10"/>
<rect x="352" y="142" width="76" height="140" rx="20" fill="none"/><path d="M290 200 H345" fill="none"/>
<path d="M672 252 H1048 L1010 880 H712Z" fill="none"/><path d="M672 252 H960 L935 880 H712Z"/>
<rect x="704" y="880" width="310" height="90" fill="none"/>
<rect x="752" y="970" width="216" height="210" rx="15" fill="none"/><rect x="752" y="970" width="138" height="210" rx="10"/>
</g>
<use href="#cosm" transform="translate(924.500,506)"/>
<g fill="#4a6fe8" stroke="#4a6fe8" stroke-width="2.400">
<g transform="translate(2506.500,1088) rotate(-18)"><rect x="-8" y="-19" width="16" height="38" rx="8" fill="none"/><path d="M-8 0 H8 V11 A8 8 0 0 1 -8 11Z"/></g>
<g transform="translate(2525.400,1116.100) rotate(14.500)"><rect x="-8" y="-19" width="16" height="38" rx="8" fill="none"/><path d="M-8 0 H8 V11 A8 8 0 0 1 -8 11Z"/></g>
</g>
<g transform="translate(2390,1070) scale(0.092115)" fill="none" stroke="#3b4856" stroke-width="13" stroke-linejoin="round" stroke-linecap="round">
<path d="M280 385 H600 L628 900 Q628 932 600 932 H322 V760 L268 640Z"/>
<path d="M350 455 V330 C350 150 525 150 525 330 V455"/><ellipse cx="350" cy="487" rx="26" ry="32"/><ellipse cx="525" cy="487" rx="26" ry="32"/>
<path d="M218 270 V175 Q255 105 292 175 V270 L320 350 M218 270 L192 340 V655 M192 655 H270 M165 755 V670 Q165 655 192 655 M200 505 H245 M200 570 H230"/>
<rect x="125" y="757" width="197" height="175"/><path d="M180 800 H260 M190 855 H240" stroke-width="16"/>
<path d="M330 615 L308 640 Q330 690 480 748 Q540 750 565 630 L540 640 Q520 690 490 690 M400 640 L455 575 Q480 575 450 670" stroke="#b0101c" stroke-width="15"/>
</g>
<!--RIVERITEMS-->
</svg>
</body></html>
